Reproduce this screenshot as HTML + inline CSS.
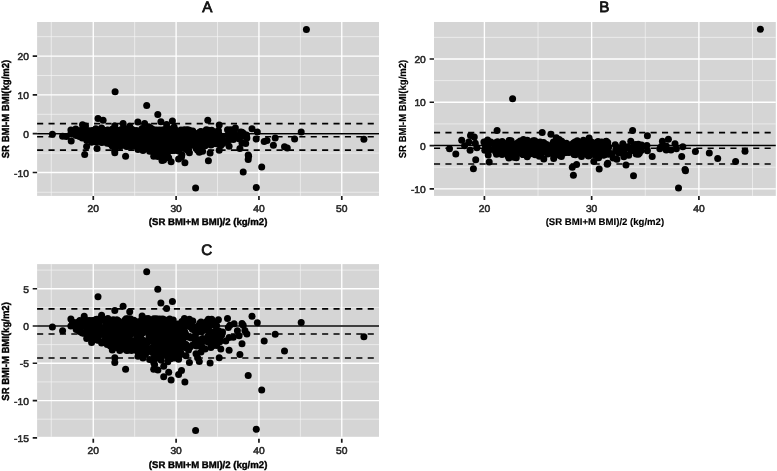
<!DOCTYPE html>
<html lang="en"><head><meta charset="utf-8"><title>Bland-Altman plots</title>
<style>
html,body{margin:0;padding:0;background:#fff;}
body{width:777px;height:471px;overflow:hidden;}
svg{display:block;}
text{font-family:"Liberation Sans",Arial,Helvetica,sans-serif;text-rendering:geometricPrecision;}
.tk{font-size:9.9px;fill:#2a2a2a;stroke:#2a2a2a;stroke-width:0.55;}
.ax{font-size:9.6px;font-weight:bold;fill:#000;stroke:#000;}
.ay{font-size:10.2px;}
.tt{font-size:15.2px;fill:#111;stroke:#111;stroke-width:0.8;}
</style></head><body>
<svg width="777" height="471" viewBox="0 0 777 471">
<rect width="777" height="471" fill="#fff"/>
<g><rect x="37.1" y="22.0" width="341.9" height="173.9" fill="#d5d5d5"/>
<path d="M51.29 22.0V195.9M134.69 22.0V195.9M217.52 22.0V195.9M300.36 22.0V195.9M37.1 192.25H379.0M37.1 153.10H379.0M37.1 114.30H379.0M37.1 75.50H379.0M37.1 36.70H379.0" stroke="#f4f4f4" stroke-width="0.7" fill="none"/>
<path d="M93.28 22.0V195.9M176.11 22.0V195.9M258.94 22.0V195.9M341.77 22.0V195.9M37.1 172.50H379.0M37.1 133.70H379.0M37.1 94.90H379.0M37.1 56.10H379.0" stroke="#ffffff" stroke-width="1.35" fill="none"/>
<path d="M93.28 196.0v4.1M176.11 196.0v4.1M258.94 196.0v4.1M341.77 196.0v4.1M37.1 172.50h-4.4M37.1 133.70h-4.4M37.1 94.90h-4.4M37.1 56.10h-4.4" stroke="#1a1a1a" stroke-width="1.7" fill="none"/>
<text class="tk" transform="translate(93.3 211.6) scale(1.04 1)" text-anchor="middle">20</text>
<text class="tk" transform="translate(176.1 211.6) scale(1.04 1)" text-anchor="middle">30</text>
<text class="tk" transform="translate(258.9 211.6) scale(1.04 1)" text-anchor="middle">40</text>
<text class="tk" transform="translate(341.8 211.6) scale(1.04 1)" text-anchor="middle">50</text>
<text class="tk" transform="translate(28.9 176.5) scale(1.04 1)" text-anchor="end">-10</text>
<text class="tk" transform="translate(28.9 137.7) scale(1.04 1)" text-anchor="end">0</text>
<text class="tk" transform="translate(28.9 98.9) scale(1.04 1)" text-anchor="end">10</text>
<text class="tk" transform="translate(28.9 60.1) scale(1.04 1)" text-anchor="end">20</text>
<g fill="#000">
<circle cx="115.1" cy="91.7" r="3.5"/><circle cx="306.4" cy="29.4" r="3.5"/><circle cx="103.1" cy="120.2" r="3.5"/><circle cx="137.9" cy="122.1" r="3.5"/><circle cx="82.5" cy="124.8" r="3.5"/><circle cx="85.5" cy="126.1" r="3.5"/><circle cx="75.7" cy="128.9" r="3.5"/><circle cx="66.4" cy="136.6" r="3.5"/><circle cx="71.2" cy="141.1" r="3.5"/><circle cx="86.6" cy="146.4" r="3.5"/><circle cx="84.7" cy="154.5" r="3.5"/><circle cx="97.0" cy="148.6" r="3.5"/><circle cx="96.2" cy="142.0" r="3.5"/><circle cx="82.3" cy="138.0" r="3.5"/><circle cx="78.0" cy="133.9" r="3.5"/><circle cx="81.3" cy="130.4" r="3.5"/><circle cx="86.2" cy="131.6" r="3.5"/><circle cx="87.5" cy="135.6" r="3.5"/><circle cx="92.9" cy="130.4" r="3.5"/><circle cx="95.8" cy="128.8" r="3.5"/><circle cx="98.2" cy="130.6" r="3.5"/><circle cx="94.1" cy="135.1" r="3.5"/><circle cx="97.4" cy="137.4" r="3.5"/><circle cx="100.7" cy="132.5" r="3.5"/><circle cx="102.4" cy="136.8" r="3.5"/><circle cx="144.6" cy="123.5" r="3.5"/><circle cx="162.0" cy="160.4" r="3.5"/><circle cx="161.2" cy="153.1" r="3.5"/><circle cx="164.5" cy="150.8" r="3.5"/><circle cx="181.9" cy="154.7" r="3.5"/><circle cx="177.8" cy="148.1" r="3.5"/><circle cx="188.5" cy="149.6" r="3.5"/><circle cx="207.8" cy="120.3" r="3.5"/><circle cx="219.2" cy="124.9" r="3.5"/><circle cx="235.4" cy="128.1" r="3.5"/><circle cx="230.8" cy="129.8" r="3.5"/><circle cx="240.5" cy="132.1" r="3.5"/><circle cx="246.5" cy="134.9" r="3.5"/><circle cx="256.2" cy="139.1" r="3.5"/><circle cx="245.7" cy="143.6" r="3.5"/><circle cx="248.2" cy="155.0" r="3.5"/><circle cx="222.9" cy="143.6" r="3.5"/><circle cx="218.8" cy="133.7" r="3.5"/><circle cx="219.2" cy="138.4" r="3.5"/><circle cx="202.6" cy="151.2" r="3.5"/><circle cx="188.1" cy="150.4" r="3.5"/><circle cx="206.3" cy="129.8" r="3.5"/><circle cx="200.1" cy="132.1" r="3.5"/><circle cx="212.1" cy="132.5" r="3.5"/><circle cx="188.5" cy="131.0" r="3.5"/><circle cx="228.7" cy="136.6" r="3.5"/><circle cx="233.7" cy="137.8" r="3.5"/><circle cx="237.4" cy="137.8" r="3.5"/><circle cx="241.5" cy="136.6" r="3.5"/><circle cx="233.7" cy="134.1" r="3.5"/><circle cx="229.9" cy="134.5" r="3.5"/><circle cx="195.6" cy="145.9" r="3.5"/><circle cx="192.7" cy="145.0" r="3.5"/><circle cx="204.7" cy="142.4" r="3.5"/><circle cx="210.5" cy="141.3" r="3.5"/><circle cx="213.0" cy="140.3" r="3.5"/><circle cx="201.0" cy="139.5" r="3.5"/><circle cx="197.6" cy="136.4" r="3.5"/><circle cx="208.4" cy="160.7" r="3.5"/><circle cx="267.0" cy="140.4" r="3.5"/><circle cx="273.4" cy="145.3" r="3.5"/><circle cx="287.3" cy="148.1" r="3.5"/><circle cx="294.6" cy="138.9" r="3.5"/><circle cx="248.6" cy="156.2" r="3.5"/><circle cx="243.2" cy="171.9" r="3.5"/><circle cx="191.8" cy="141.1" r="3.5"/><circle cx="196.0" cy="138.7" r="3.5"/><circle cx="204.3" cy="135.6" r="3.5"/><circle cx="208.4" cy="134.5" r="3.5"/><circle cx="194.3" cy="132.9" r="3.5"/><circle cx="201.0" cy="143.8" r="3.5"/><circle cx="211.7" cy="137.2" r="3.5"/><circle cx="124.0" cy="141.8" r="3.5"/><circle cx="181.0" cy="130.1" r="3.5"/><circle cx="175.0" cy="130.3" r="3.5"/><circle cx="163.9" cy="134.8" r="3.5"/><circle cx="158.3" cy="135.5" r="3.5"/><circle cx="114.2" cy="136.9" r="3.5"/><circle cx="167.8" cy="131.4" r="3.5"/><circle cx="127.8" cy="139.0" r="3.5"/><circle cx="153.5" cy="136.7" r="3.5"/><circle cx="130.0" cy="138.6" r="3.5"/><circle cx="124.1" cy="133.7" r="3.5"/><circle cx="116.4" cy="133.7" r="3.5"/><circle cx="122.5" cy="133.2" r="3.5"/><circle cx="102.6" cy="132.2" r="3.5"/><circle cx="164.5" cy="136.5" r="3.5"/><circle cx="183.0" cy="135.8" r="3.5"/><circle cx="120.9" cy="129.7" r="3.5"/><circle cx="179.6" cy="139.9" r="3.5"/><circle cx="113.8" cy="138.5" r="3.5"/><circle cx="183.2" cy="136.2" r="3.5"/><circle cx="175.5" cy="139.8" r="3.5"/><circle cx="131.4" cy="139.9" r="3.5"/><circle cx="173.8" cy="142.2" r="3.5"/><circle cx="114.1" cy="136.0" r="3.5"/><circle cx="121.0" cy="131.1" r="3.5"/><circle cx="150.2" cy="134.7" r="3.5"/><circle cx="114.2" cy="134.7" r="3.5"/><circle cx="137.7" cy="139.0" r="3.5"/><circle cx="115.2" cy="137.8" r="3.5"/><circle cx="131.0" cy="129.4" r="3.5"/><circle cx="116.3" cy="140.2" r="3.5"/><circle cx="180.8" cy="136.6" r="3.5"/><circle cx="111.6" cy="135.5" r="3.5"/><circle cx="180.2" cy="137.0" r="3.5"/><circle cx="160.2" cy="135.7" r="3.5"/><circle cx="126.7" cy="132.5" r="3.5"/><circle cx="124.2" cy="135.7" r="3.5"/><circle cx="188.5" cy="133.3" r="3.5"/><circle cx="189.2" cy="135.3" r="3.5"/><circle cx="127.0" cy="137.6" r="3.5"/><circle cx="180.3" cy="130.9" r="3.5"/><circle cx="127.3" cy="134.6" r="3.5"/><circle cx="187.5" cy="129.8" r="3.5"/><circle cx="131.5" cy="136.1" r="3.5"/><circle cx="113.9" cy="129.5" r="3.5"/><circle cx="147.8" cy="136.7" r="3.5"/><circle cx="117.9" cy="144.6" r="3.5"/><circle cx="120.7" cy="133.4" r="3.5"/><circle cx="151.8" cy="135.2" r="3.5"/><circle cx="169.2" cy="134.9" r="3.5"/><circle cx="164.0" cy="136.3" r="3.5"/><circle cx="109.3" cy="135.3" r="3.5"/><circle cx="155.0" cy="139.9" r="3.5"/><circle cx="119.6" cy="136.7" r="3.5"/><circle cx="155.3" cy="138.7" r="3.5"/><circle cx="152.8" cy="143.6" r="3.5"/><circle cx="119.3" cy="131.0" r="3.5"/><circle cx="137.4" cy="134.3" r="3.5"/><circle cx="164.9" cy="130.1" r="3.5"/><circle cx="131.0" cy="134.4" r="3.5"/><circle cx="175.4" cy="133.8" r="3.5"/><circle cx="102.9" cy="140.2" r="3.5"/><circle cx="181.5" cy="144.6" r="3.5"/><circle cx="124.9" cy="135.6" r="3.5"/><circle cx="117.9" cy="135.0" r="3.5"/><circle cx="115.9" cy="140.0" r="3.5"/><circle cx="134.1" cy="137.1" r="3.5"/><circle cx="147.2" cy="137.0" r="3.5"/><circle cx="140.7" cy="138.7" r="3.5"/><circle cx="164.3" cy="137.0" r="3.5"/><circle cx="173.3" cy="134.6" r="3.5"/><circle cx="164.0" cy="139.4" r="3.5"/><circle cx="135.0" cy="136.8" r="3.5"/><circle cx="178.2" cy="138.2" r="3.5"/><circle cx="185.3" cy="141.5" r="3.5"/><circle cx="148.1" cy="136.6" r="3.5"/><circle cx="148.8" cy="126.8" r="3.5"/><circle cx="121.2" cy="135.5" r="3.5"/><circle cx="117.5" cy="134.4" r="3.5"/><circle cx="173.3" cy="135.0" r="3.5"/><circle cx="104.2" cy="131.9" r="3.5"/><circle cx="118.7" cy="133.4" r="3.5"/><circle cx="103.1" cy="140.9" r="3.5"/><circle cx="147.5" cy="139.8" r="3.5"/><circle cx="163.3" cy="130.6" r="3.5"/><circle cx="164.5" cy="132.1" r="3.5"/><circle cx="105.5" cy="133.6" r="3.5"/><circle cx="145.5" cy="133.7" r="3.5"/><circle cx="126.1" cy="134.0" r="3.5"/><circle cx="113.6" cy="134.0" r="3.5"/><circle cx="153.5" cy="135.4" r="3.5"/><circle cx="151.8" cy="138.5" r="3.5"/><circle cx="167.1" cy="133.1" r="3.5"/><circle cx="183.9" cy="130.6" r="3.5"/><circle cx="135.7" cy="143.3" r="3.5"/><circle cx="147.7" cy="133.2" r="3.5"/><circle cx="136.3" cy="130.5" r="3.5"/><circle cx="131.3" cy="139.2" r="3.5"/><circle cx="122.7" cy="138.9" r="3.5"/><circle cx="187.7" cy="133.2" r="3.5"/><circle cx="172.2" cy="130.7" r="3.5"/><circle cx="175.9" cy="140.5" r="3.5"/><circle cx="183.6" cy="137.9" r="3.5"/><circle cx="123.4" cy="141.7" r="3.5"/><circle cx="133.5" cy="134.2" r="3.5"/><circle cx="148.2" cy="133.0" r="3.5"/><circle cx="145.9" cy="135.1" r="3.5"/><circle cx="103.4" cy="130.2" r="3.5"/><circle cx="169.7" cy="128.9" r="3.5"/><circle cx="183.8" cy="141.5" r="3.5"/><circle cx="179.2" cy="142.0" r="3.5"/><circle cx="179.3" cy="131.4" r="3.5"/><circle cx="124.9" cy="135.6" r="3.5"/><circle cx="161.1" cy="137.5" r="3.5"/><circle cx="182.7" cy="132.0" r="3.5"/><circle cx="156.1" cy="136.8" r="3.5"/><circle cx="139.7" cy="132.1" r="3.5"/><circle cx="185.1" cy="137.6" r="3.5"/><circle cx="158.4" cy="133.6" r="3.5"/><circle cx="112.2" cy="144.8" r="3.5"/><circle cx="146.7" cy="142.2" r="3.5"/><circle cx="125.2" cy="141.5" r="3.5"/><circle cx="114.6" cy="135.8" r="3.5"/><circle cx="112.4" cy="134.6" r="3.5"/><circle cx="137.3" cy="134.4" r="3.5"/><circle cx="126.9" cy="136.7" r="3.5"/><circle cx="149.5" cy="135.1" r="3.5"/><circle cx="175.3" cy="140.7" r="3.5"/><circle cx="158.6" cy="140.0" r="3.5"/><circle cx="119.2" cy="137.9" r="3.5"/><circle cx="149.7" cy="141.0" r="3.5"/><circle cx="155.4" cy="140.1" r="3.5"/><circle cx="122.9" cy="136.1" r="3.5"/><circle cx="121.0" cy="140.6" r="3.5"/><circle cx="153.0" cy="137.1" r="3.5"/><circle cx="102.6" cy="141.5" r="3.5"/><circle cx="122.5" cy="130.6" r="3.5"/><circle cx="150.4" cy="140.0" r="3.5"/><circle cx="188.3" cy="136.6" r="3.5"/><circle cx="127.5" cy="136.5" r="3.5"/><circle cx="107.4" cy="139.1" r="3.5"/><circle cx="178.1" cy="138.1" r="3.5"/><circle cx="135.6" cy="136.3" r="3.5"/><circle cx="140.2" cy="137.0" r="3.5"/><circle cx="121.4" cy="138.7" r="3.5"/><circle cx="185.8" cy="137.0" r="3.5"/><circle cx="131.1" cy="139.1" r="3.5"/><circle cx="132.5" cy="139.2" r="3.5"/><circle cx="176.2" cy="141.6" r="3.5"/><circle cx="173.6" cy="143.1" r="3.5"/><circle cx="166.8" cy="137.5" r="3.5"/><circle cx="168.2" cy="143.5" r="3.5"/><circle cx="163.8" cy="135.8" r="3.5"/><circle cx="181.9" cy="131.3" r="3.5"/><circle cx="102.0" cy="131.2" r="3.5"/><circle cx="168.8" cy="140.7" r="3.5"/><circle cx="186.1" cy="139.1" r="3.5"/><circle cx="151.8" cy="142.7" r="3.5"/><circle cx="178.2" cy="133.5" r="3.5"/><circle cx="154.9" cy="139.9" r="3.5"/><circle cx="141.7" cy="133.9" r="3.5"/><circle cx="165.0" cy="137.9" r="3.5"/><circle cx="150.3" cy="133.1" r="3.5"/><circle cx="135.4" cy="139.8" r="3.5"/><circle cx="176.2" cy="130.7" r="3.5"/><circle cx="145.5" cy="139.1" r="3.5"/><circle cx="128.2" cy="136.0" r="3.5"/><circle cx="114.3" cy="141.3" r="3.5"/><circle cx="109.3" cy="139.1" r="3.5"/><circle cx="182.3" cy="140.1" r="3.5"/><circle cx="175.1" cy="130.1" r="3.5"/><circle cx="185.7" cy="135.6" r="3.5"/><circle cx="181.5" cy="132.9" r="3.5"/><circle cx="102.5" cy="132.0" r="3.5"/><circle cx="145.2" cy="135.3" r="3.5"/><circle cx="182.4" cy="136.1" r="3.5"/><circle cx="189.2" cy="141.6" r="3.5"/><circle cx="147.0" cy="142.7" r="3.5"/><circle cx="135.8" cy="137.4" r="3.5"/><circle cx="133.0" cy="139.8" r="3.5"/><circle cx="184.8" cy="138.8" r="3.5"/><circle cx="161.0" cy="138.5" r="3.5"/><circle cx="134.4" cy="137.1" r="3.5"/><circle cx="136.8" cy="141.5" r="3.5"/><circle cx="178.8" cy="138.7" r="3.5"/><circle cx="186.2" cy="141.0" r="3.5"/><circle cx="156.4" cy="136.5" r="3.5"/><circle cx="189.0" cy="139.4" r="3.5"/><circle cx="173.2" cy="132.8" r="3.5"/><circle cx="116.6" cy="141.3" r="3.5"/><circle cx="174.1" cy="127.0" r="3.5"/><circle cx="146.5" cy="130.5" r="3.5"/><circle cx="162.1" cy="131.5" r="3.5"/><circle cx="173.6" cy="128.7" r="3.5"/><circle cx="138.5" cy="137.3" r="3.5"/><circle cx="115.3" cy="138.0" r="3.5"/><circle cx="145.9" cy="132.3" r="3.5"/><circle cx="118.0" cy="134.6" r="3.5"/><circle cx="154.5" cy="131.8" r="3.5"/><circle cx="132.5" cy="131.3" r="3.5"/><circle cx="105.3" cy="137.0" r="3.5"/><circle cx="137.7" cy="136.0" r="3.5"/><circle cx="162.2" cy="140.0" r="3.5"/><circle cx="101.9" cy="139.3" r="3.5"/><circle cx="153.0" cy="129.8" r="3.5"/><circle cx="160.2" cy="135.3" r="3.5"/><circle cx="150.1" cy="132.5" r="3.5"/><circle cx="124.9" cy="139.7" r="3.5"/><circle cx="189.1" cy="140.6" r="3.5"/><circle cx="152.0" cy="138.5" r="3.5"/><circle cx="115.3" cy="135.8" r="3.5"/><circle cx="168.2" cy="135.4" r="3.5"/><circle cx="116.6" cy="135.7" r="3.5"/><circle cx="147.5" cy="134.4" r="3.5"/><circle cx="172.4" cy="141.6" r="3.5"/><circle cx="107.0" cy="130.2" r="3.5"/><circle cx="129.9" cy="136.3" r="3.5"/><circle cx="164.3" cy="138.2" r="3.5"/><circle cx="125.0" cy="134.9" r="3.5"/><circle cx="110.3" cy="132.6" r="3.5"/><circle cx="132.2" cy="139.7" r="3.5"/><circle cx="141.1" cy="137.8" r="3.5"/><circle cx="179.8" cy="136.0" r="3.5"/><circle cx="152.8" cy="132.8" r="3.5"/><circle cx="156.0" cy="137.9" r="3.5"/><circle cx="123.4" cy="128.2" r="3.5"/><circle cx="176.6" cy="134.4" r="3.5"/><circle cx="129.2" cy="131.1" r="3.5"/><circle cx="128.2" cy="141.0" r="3.5"/><circle cx="154.5" cy="132.4" r="3.5"/><circle cx="185.0" cy="137.9" r="3.5"/><circle cx="122.9" cy="141.6" r="3.5"/><circle cx="121.0" cy="132.8" r="3.5"/><circle cx="128.7" cy="133.6" r="3.5"/><circle cx="171.1" cy="139.9" r="3.5"/><circle cx="122.9" cy="135.1" r="3.5"/><circle cx="118.0" cy="133.5" r="3.5"/><circle cx="186.9" cy="138.0" r="3.5"/><circle cx="111.7" cy="132.0" r="3.5"/><circle cx="148.4" cy="139.8" r="3.5"/><circle cx="107.3" cy="134.2" r="3.5"/><circle cx="112.4" cy="135.1" r="3.5"/><circle cx="123.1" cy="140.0" r="3.5"/><circle cx="118.4" cy="137.4" r="3.5"/><circle cx="104.6" cy="134.0" r="3.5"/><circle cx="159.9" cy="138.0" r="3.5"/><circle cx="163.5" cy="134.9" r="3.5"/><circle cx="109.7" cy="137.7" r="3.5"/><circle cx="112.7" cy="129.5" r="3.5"/><circle cx="140.5" cy="133.2" r="3.5"/><circle cx="115.6" cy="142.8" r="3.5"/><circle cx="132.5" cy="137.5" r="3.5"/><circle cx="185.7" cy="140.5" r="3.5"/><circle cx="119.9" cy="132.4" r="3.5"/><circle cx="121.5" cy="138.2" r="3.5"/><circle cx="141.3" cy="132.7" r="3.5"/><circle cx="124.4" cy="132.3" r="3.5"/><circle cx="180.6" cy="140.0" r="3.5"/><circle cx="123.2" cy="138.7" r="3.5"/><circle cx="155.0" cy="135.0" r="3.5"/><circle cx="112.3" cy="129.2" r="3.5"/><circle cx="146.6" cy="139.8" r="3.5"/><circle cx="169.3" cy="137.6" r="3.5"/><circle cx="135.4" cy="139.6" r="3.5"/><circle cx="128.8" cy="141.0" r="3.5"/><circle cx="135.8" cy="134.7" r="3.5"/><circle cx="176.3" cy="135.6" r="3.5"/><circle cx="129.7" cy="137.8" r="3.5"/><circle cx="150.9" cy="138.4" r="3.5"/><circle cx="133.3" cy="140.1" r="3.5"/><circle cx="107.4" cy="136.8" r="3.5"/><circle cx="128.9" cy="136.5" r="3.5"/><circle cx="164.5" cy="134.8" r="3.5"/><circle cx="126.3" cy="143.8" r="3.5"/><circle cx="169.6" cy="132.0" r="3.5"/><circle cx="179.1" cy="135.5" r="3.5"/><circle cx="125.8" cy="138.4" r="3.5"/><circle cx="104.1" cy="139.2" r="3.5"/><circle cx="132.5" cy="142.0" r="3.5"/><circle cx="137.8" cy="140.1" r="3.5"/><circle cx="123.3" cy="141.8" r="3.5"/><circle cx="175.9" cy="140.1" r="3.5"/><circle cx="117.5" cy="132.4" r="3.5"/><circle cx="111.7" cy="131.4" r="3.5"/><circle cx="164.1" cy="140.1" r="3.5"/><circle cx="105.1" cy="134.6" r="3.5"/><circle cx="119.0" cy="136.2" r="3.5"/><circle cx="128.2" cy="137.6" r="3.5"/><circle cx="128.9" cy="136.1" r="3.5"/><circle cx="157.6" cy="133.6" r="3.5"/><circle cx="151.6" cy="130.1" r="3.5"/><circle cx="164.5" cy="136.9" r="3.5"/><circle cx="161.6" cy="132.7" r="3.5"/><circle cx="132.2" cy="129.4" r="3.5"/><circle cx="169.7" cy="136.8" r="3.5"/><circle cx="126.7" cy="129.5" r="3.5"/><circle cx="154.9" cy="134.8" r="3.5"/><circle cx="105.7" cy="136.7" r="3.5"/><circle cx="171.1" cy="134.9" r="3.5"/><circle cx="120.0" cy="131.3" r="3.5"/><circle cx="109.1" cy="140.1" r="3.5"/><circle cx="162.5" cy="141.8" r="3.5"/><circle cx="174.3" cy="132.8" r="3.5"/><circle cx="126.2" cy="128.9" r="3.5"/><circle cx="138.8" cy="131.8" r="3.5"/><circle cx="183.2" cy="139.1" r="3.5"/><circle cx="174.5" cy="142.7" r="3.5"/><circle cx="156.7" cy="138.0" r="3.5"/><circle cx="162.9" cy="136.4" r="3.5"/><circle cx="139.2" cy="145.7" r="3.5"/><circle cx="112.7" cy="137.5" r="3.5"/><circle cx="168.5" cy="131.0" r="3.5"/><circle cx="172.3" cy="135.2" r="3.5"/><circle cx="157.6" cy="139.8" r="3.5"/><circle cx="149.4" cy="136.8" r="3.5"/><circle cx="133.0" cy="135.4" r="3.5"/><circle cx="137.7" cy="135.8" r="3.5"/><circle cx="113.6" cy="133.6" r="3.5"/><circle cx="163.6" cy="138.2" r="3.5"/><circle cx="122.8" cy="139.3" r="3.5"/><circle cx="146.8" cy="145.4" r="3.5"/><circle cx="132.5" cy="133.7" r="3.5"/><circle cx="127.8" cy="135.2" r="3.5"/><circle cx="151.0" cy="138.2" r="3.5"/><circle cx="130.9" cy="134.9" r="3.5"/><circle cx="168.3" cy="141.3" r="3.5"/><circle cx="116.4" cy="139.4" r="3.5"/><circle cx="142.1" cy="141.3" r="3.5"/><circle cx="168.8" cy="135.9" r="3.5"/><circle cx="127.0" cy="138.5" r="3.5"/><circle cx="133.2" cy="136.4" r="3.5"/><circle cx="126.2" cy="135.5" r="3.5"/><circle cx="118.9" cy="138.1" r="3.5"/><circle cx="111.5" cy="140.8" r="3.5"/><circle cx="130.1" cy="140.4" r="3.5"/><circle cx="116.3" cy="136.1" r="3.5"/><circle cx="167.4" cy="136.0" r="3.5"/><circle cx="108.9" cy="139.0" r="3.5"/><circle cx="111.1" cy="140.9" r="3.5"/><circle cx="118.2" cy="136.5" r="3.5"/><circle cx="149.3" cy="128.1" r="3.5"/><circle cx="158.1" cy="136.3" r="3.5"/><circle cx="156.6" cy="131.6" r="3.5"/><circle cx="123.6" cy="139.1" r="3.5"/><circle cx="123.2" cy="136.2" r="3.5"/><circle cx="169.6" cy="136.1" r="3.5"/><circle cx="175.3" cy="137.5" r="3.5"/><circle cx="157.6" cy="134.4" r="3.5"/><circle cx="175.8" cy="134.7" r="3.5"/><circle cx="170.5" cy="137.9" r="3.5"/><circle cx="174.5" cy="137.0" r="3.5"/><circle cx="117.8" cy="140.3" r="3.5"/><circle cx="174.0" cy="138.4" r="3.5"/><circle cx="149.9" cy="133.4" r="3.5"/><circle cx="133.9" cy="135.4" r="3.5"/><circle cx="105.2" cy="139.3" r="3.5"/><circle cx="151.3" cy="141.8" r="3.5"/><circle cx="163.5" cy="142.0" r="3.5"/><circle cx="181.1" cy="132.5" r="3.5"/><circle cx="145.5" cy="138.4" r="3.5"/><circle cx="115.4" cy="138.4" r="3.5"/><circle cx="108.6" cy="131.9" r="3.5"/><circle cx="161.9" cy="134.6" r="3.5"/><circle cx="186.7" cy="133.2" r="3.5"/><circle cx="109.4" cy="132.8" r="3.5"/><circle cx="118.3" cy="135.8" r="3.5"/><circle cx="165.0" cy="129.4" r="3.5"/><circle cx="176.7" cy="136.7" r="3.5"/><circle cx="170.6" cy="139.6" r="3.5"/><circle cx="159.6" cy="135.4" r="3.5"/><circle cx="146.7" cy="139.9" r="3.5"/><circle cx="140.1" cy="135.1" r="3.5"/><circle cx="160.0" cy="132.9" r="3.5"/><circle cx="116.0" cy="144.3" r="3.5"/><circle cx="127.5" cy="141.5" r="3.5"/><circle cx="132.1" cy="135.1" r="3.5"/><circle cx="118.7" cy="133.9" r="3.5"/><circle cx="142.0" cy="135.1" r="3.5"/><circle cx="186.9" cy="130.3" r="3.5"/><circle cx="187.1" cy="141.0" r="3.5"/><circle cx="186.0" cy="142.0" r="3.5"/><circle cx="106.9" cy="141.7" r="3.5"/><circle cx="161.0" cy="139.3" r="3.5"/><circle cx="151.7" cy="138.9" r="3.5"/><circle cx="185.2" cy="142.4" r="3.5"/><circle cx="127.8" cy="136.1" r="3.5"/><circle cx="131.7" cy="136.1" r="3.5"/><circle cx="118.1" cy="137.4" r="3.5"/><circle cx="161.1" cy="138.4" r="3.5"/><circle cx="159.5" cy="136.3" r="3.5"/><circle cx="134.2" cy="140.3" r="3.5"/><circle cx="148.1" cy="138.7" r="3.5"/><circle cx="151.2" cy="138.3" r="3.5"/><circle cx="117.4" cy="135.6" r="3.5"/><circle cx="179.7" cy="138.6" r="3.5"/><circle cx="177.3" cy="137.4" r="3.5"/><circle cx="123.8" cy="132.8" r="3.5"/><circle cx="123.7" cy="134.1" r="3.5"/><circle cx="144.6" cy="139.4" r="3.5"/><circle cx="151.8" cy="137.7" r="3.5"/><circle cx="111.5" cy="142.0" r="3.5"/><circle cx="108.6" cy="137.2" r="3.5"/><circle cx="137.4" cy="133.1" r="3.5"/><circle cx="177.4" cy="134.9" r="3.5"/><circle cx="149.9" cy="138.2" r="3.5"/><circle cx="111.6" cy="143.2" r="3.5"/><circle cx="188.5" cy="137.1" r="3.5"/><circle cx="174.5" cy="138.6" r="3.5"/><circle cx="135.9" cy="132.1" r="3.5"/><circle cx="151.0" cy="128.2" r="3.5"/><circle cx="169.6" cy="132.4" r="3.5"/><circle cx="106.6" cy="131.7" r="3.5"/><circle cx="122.4" cy="137.3" r="3.5"/><circle cx="153.7" cy="136.3" r="3.5"/><circle cx="120.3" cy="138.7" r="3.5"/><circle cx="139.0" cy="131.0" r="3.5"/><circle cx="179.6" cy="142.5" r="3.5"/><circle cx="151.0" cy="142.2" r="3.5"/><circle cx="182.2" cy="135.2" r="3.5"/><circle cx="167.0" cy="138.5" r="3.5"/><circle cx="201.7" cy="136.4" r="3.5"/><circle cx="212.1" cy="141.5" r="3.5"/><circle cx="197.0" cy="140.3" r="3.5"/><circle cx="214.7" cy="133.2" r="3.5"/><circle cx="209.9" cy="132.7" r="3.5"/><circle cx="196.5" cy="135.7" r="3.5"/><circle cx="206.2" cy="136.3" r="3.5"/><circle cx="214.3" cy="138.2" r="3.5"/><circle cx="208.9" cy="136.9" r="3.5"/><circle cx="203.9" cy="134.8" r="3.5"/><circle cx="212.4" cy="138.1" r="3.5"/><circle cx="194.7" cy="137.5" r="3.5"/><circle cx="196.7" cy="136.2" r="3.5"/><circle cx="206.3" cy="138.7" r="3.5"/><circle cx="96.2" cy="135.5" r="3.5"/><circle cx="94.7" cy="136.9" r="3.5"/><circle cx="102.0" cy="138.5" r="3.5"/><circle cx="101.3" cy="135.5" r="3.5"/><circle cx="102.7" cy="132.0" r="3.5"/><circle cx="94.8" cy="134.2" r="3.5"/><circle cx="98.2" cy="131.1" r="3.5"/><circle cx="93.6" cy="138.0" r="3.5"/><circle cx="146.7" cy="105.5" r="3.5"/><circle cx="98.0" cy="118.5" r="3.5"/><circle cx="123.1" cy="123.4" r="3.5"/><circle cx="114.8" cy="125.7" r="3.5"/><circle cx="129.7" cy="126.3" r="3.5"/><circle cx="101.6" cy="128.1" r="3.5"/><circle cx="142.1" cy="128.5" r="3.5"/><circle cx="84.2" cy="128.7" r="3.5"/><circle cx="70.9" cy="130.0" r="3.5"/><circle cx="52.4" cy="134.3" r="3.5"/><circle cx="62.6" cy="136.2" r="3.5"/><circle cx="70.9" cy="133.7" r="3.5"/><circle cx="157.8" cy="114.6" r="3.5"/><circle cx="160.9" cy="121.8" r="3.5"/><circle cx="172.4" cy="121.0" r="3.5"/><circle cx="166.6" cy="124.6" r="3.5"/><circle cx="252.0" cy="128.7" r="3.5"/><circle cx="257.3" cy="132.0" r="3.5"/><circle cx="227.5" cy="129.8" r="3.5"/><circle cx="218.4" cy="130.4" r="3.5"/><circle cx="242.0" cy="132.3" r="3.5"/><circle cx="228.3" cy="134.5" r="3.5"/><circle cx="244.9" cy="136.0" r="3.5"/><circle cx="239.1" cy="138.7" r="3.5"/><circle cx="211.7" cy="130.2" r="3.5"/><circle cx="208.4" cy="130.2" r="3.5"/><circle cx="189.4" cy="130.2" r="3.5"/><circle cx="184.4" cy="129.8" r="3.5"/><circle cx="181.9" cy="131.4" r="3.5"/><circle cx="86.7" cy="140.2" r="3.5"/><circle cx="91.6" cy="142.2" r="3.5"/><circle cx="101.6" cy="142.6" r="3.5"/><circle cx="112.3" cy="146.1" r="3.5"/><circle cx="119.8" cy="146.5" r="3.5"/><circle cx="114.8" cy="150.2" r="3.5"/><circle cx="114.8" cy="152.7" r="3.5"/><circle cx="125.6" cy="156.2" r="3.5"/><circle cx="138.0" cy="149.4" r="3.5"/><circle cx="153.7" cy="152.7" r="3.5"/><circle cx="153.7" cy="156.2" r="3.5"/><circle cx="248.2" cy="159.5" r="3.5"/><circle cx="184.9" cy="162.8" r="3.5"/><circle cx="171.1" cy="161.8" r="3.5"/><circle cx="163.7" cy="160.1" r="3.5"/><circle cx="168.7" cy="157.8" r="3.5"/><circle cx="178.6" cy="158.9" r="3.5"/><circle cx="181.5" cy="156.9" r="3.5"/><circle cx="157.9" cy="156.6" r="3.5"/><circle cx="163.7" cy="154.7" r="3.5"/><circle cx="154.6" cy="153.9" r="3.5"/><circle cx="189.4" cy="152.7" r="3.5"/><circle cx="199.3" cy="152.2" r="3.5"/><circle cx="210.1" cy="153.0" r="3.5"/><circle cx="178.6" cy="151.0" r="3.5"/><circle cx="219.2" cy="150.2" r="3.5"/><circle cx="239.9" cy="148.6" r="3.5"/><circle cx="196.0" cy="148.2" r="3.5"/><circle cx="197.6" cy="150.2" r="3.5"/><circle cx="188.5" cy="146.1" r="3.5"/><circle cx="229.1" cy="146.3" r="3.5"/><circle cx="220.8" cy="145.6" r="3.5"/><circle cx="242.0" cy="143.0" r="3.5"/><circle cx="246.9" cy="137.9" r="3.5"/><circle cx="237.4" cy="136.1" r="3.5"/><circle cx="229.1" cy="139.8" r="3.5"/><circle cx="243.2" cy="133.3" r="3.5"/><circle cx="229.9" cy="133.3" r="3.5"/><circle cx="205.1" cy="145.7" r="3.5"/><circle cx="210.9" cy="145.0" r="3.5"/><circle cx="155.4" cy="150.6" r="3.5"/><circle cx="143.0" cy="150.4" r="3.5"/><circle cx="301.2" cy="132.0" r="3.5"/><circle cx="275.2" cy="138.0" r="3.5"/><circle cx="264.2" cy="141.5" r="3.5"/><circle cx="284.5" cy="146.7" r="3.5"/><circle cx="363.9" cy="139.2" r="3.5"/><circle cx="261.7" cy="167.0" r="3.5"/><circle cx="195.6" cy="188.0" r="3.5"/><circle cx="256.3" cy="187.5" r="3.5"/><circle cx="225.8" cy="141.5" r="3.5"/><circle cx="220.0" cy="139.9" r="3.5"/><circle cx="233.3" cy="139.5" r="3.5"/><circle cx="222.5" cy="136.8" r="3.5"/><circle cx="234.1" cy="132.5" r="3.5"/><circle cx="216.7" cy="143.8" r="3.5"/><circle cx="201.0" cy="147.3" r="3.5"/><circle cx="167.8" cy="152.3" r="3.5"/><circle cx="174.5" cy="150.4" r="3.5"/><circle cx="161.2" cy="151.5" r="3.5"/><circle cx="149.6" cy="151.2" r="3.5"/><circle cx="186.0" cy="149.2" r="3.5"/><circle cx="131.2" cy="143.2" r="3.5"/><circle cx="118.9" cy="133.2" r="3.5"/><circle cx="141.4" cy="130.6" r="3.5"/><circle cx="135.8" cy="142.5" r="3.5"/><circle cx="167.0" cy="144.9" r="3.5"/><circle cx="106.0" cy="133.4" r="3.5"/><circle cx="91.8" cy="138.5" r="3.5"/><circle cx="142.6" cy="143.1" r="3.5"/><circle cx="147.3" cy="141.9" r="3.5"/><circle cx="106.6" cy="138.4" r="3.5"/><circle cx="122.0" cy="144.6" r="3.5"/><circle cx="159.9" cy="136.0" r="3.5"/><circle cx="98.8" cy="138.7" r="3.5"/><circle cx="130.1" cy="132.1" r="3.5"/><circle cx="152.7" cy="144.9" r="3.5"/><circle cx="180.5" cy="148.6" r="3.5"/><circle cx="118.1" cy="134.7" r="3.5"/><circle cx="156.6" cy="138.7" r="3.5"/><circle cx="168.9" cy="144.3" r="3.5"/><circle cx="148.9" cy="138.2" r="3.5"/><circle cx="136.1" cy="141.3" r="3.5"/><circle cx="165.0" cy="130.6" r="3.5"/><circle cx="124.3" cy="136.7" r="3.5"/><circle cx="78.5" cy="135.9" r="3.5"/><circle cx="162.9" cy="145.0" r="3.5"/><circle cx="114.6" cy="136.6" r="3.5"/><circle cx="78.3" cy="134.5" r="3.5"/><circle cx="115.1" cy="132.2" r="3.5"/><circle cx="132.7" cy="132.0" r="3.5"/><circle cx="162.7" cy="132.4" r="3.5"/><circle cx="102.6" cy="142.1" r="3.5"/><circle cx="111.6" cy="132.0" r="3.5"/><circle cx="178.0" cy="147.9" r="3.5"/><circle cx="97.7" cy="140.6" r="3.5"/><circle cx="137.1" cy="145.5" r="3.5"/><circle cx="112.7" cy="138.9" r="3.5"/><circle cx="177.5" cy="136.1" r="3.5"/><circle cx="129.0" cy="137.7" r="3.5"/><circle cx="171.6" cy="134.2" r="3.5"/><circle cx="168.8" cy="133.8" r="3.5"/><circle cx="115.3" cy="142.5" r="3.5"/><circle cx="83.3" cy="137.4" r="3.5"/><circle cx="74.6" cy="132.1" r="3.5"/><circle cx="139.9" cy="147.9" r="3.5"/><circle cx="123.4" cy="140.6" r="3.5"/><circle cx="163.8" cy="147.7" r="3.5"/><circle cx="130.4" cy="129.9" r="3.5"/><circle cx="167.6" cy="136.0" r="3.5"/><circle cx="90.3" cy="134.4" r="3.5"/><circle cx="130.9" cy="134.2" r="3.5"/><circle cx="166.4" cy="133.7" r="3.5"/><circle cx="162.6" cy="135.1" r="3.5"/><circle cx="96.9" cy="139.9" r="3.5"/><circle cx="100.5" cy="136.1" r="3.5"/><circle cx="177.9" cy="141.5" r="3.5"/><circle cx="177.8" cy="143.2" r="3.5"/><circle cx="141.0" cy="131.6" r="3.5"/><circle cx="165.0" cy="140.7" r="3.5"/><circle cx="144.2" cy="133.8" r="3.5"/><circle cx="81.2" cy="136.8" r="3.5"/><circle cx="172.7" cy="134.2" r="3.5"/><circle cx="155.0" cy="140.8" r="3.5"/><circle cx="91.5" cy="134.0" r="3.5"/><circle cx="108.7" cy="133.8" r="3.5"/><circle cx="179.6" cy="142.5" r="3.5"/><circle cx="116.3" cy="130.6" r="3.5"/><circle cx="152.2" cy="147.5" r="3.5"/><circle cx="172.2" cy="133.6" r="3.5"/><circle cx="88.0" cy="133.2" r="3.5"/><circle cx="180.6" cy="136.9" r="3.5"/><circle cx="110.7" cy="139.2" r="3.5"/><circle cx="179.5" cy="137.0" r="3.5"/><circle cx="130.2" cy="130.9" r="3.5"/><circle cx="119.9" cy="132.2" r="3.5"/><circle cx="163.4" cy="146.6" r="3.5"/><circle cx="98.4" cy="138.4" r="3.5"/><circle cx="86.3" cy="131.4" r="3.5"/><circle cx="111.0" cy="141.2" r="3.5"/><circle cx="136.5" cy="131.5" r="3.5"/><circle cx="118.5" cy="131.2" r="3.5"/><circle cx="127.4" cy="139.6" r="3.5"/><circle cx="152.3" cy="139.1" r="3.5"/><circle cx="107.9" cy="139.9" r="3.5"/><circle cx="133.4" cy="134.1" r="3.5"/><circle cx="157.5" cy="140.1" r="3.5"/><circle cx="134.1" cy="134.6" r="3.5"/><circle cx="173.0" cy="141.5" r="3.5"/><circle cx="139.7" cy="140.2" r="3.5"/><circle cx="128.6" cy="136.1" r="3.5"/><circle cx="121.9" cy="139.6" r="3.5"/><circle cx="124.8" cy="130.7" r="3.5"/><circle cx="149.4" cy="132.1" r="3.5"/><circle cx="176.4" cy="145.5" r="3.5"/><circle cx="133.9" cy="130.7" r="3.5"/><circle cx="165.0" cy="148.2" r="3.5"/><circle cx="79.9" cy="136.6" r="3.5"/><circle cx="158.7" cy="131.7" r="3.5"/><circle cx="88.9" cy="135.6" r="3.5"/><circle cx="145.0" cy="148.1" r="3.5"/><circle cx="169.7" cy="130.1" r="3.5"/><circle cx="96.1" cy="130.5" r="3.5"/><circle cx="116.0" cy="140.6" r="3.5"/><circle cx="129.0" cy="143.8" r="3.5"/><circle cx="133.2" cy="141.6" r="3.5"/><circle cx="141.0" cy="140.0" r="3.5"/><circle cx="159.2" cy="130.1" r="3.5"/><circle cx="76.1" cy="134.2" r="3.5"/><circle cx="118.6" cy="131.4" r="3.5"/><circle cx="162.6" cy="145.5" r="3.5"/><circle cx="88.3" cy="131.2" r="3.5"/><circle cx="135.1" cy="136.0" r="3.5"/><circle cx="148.1" cy="141.9" r="3.5"/><circle cx="79.8" cy="130.8" r="3.5"/><circle cx="142.1" cy="133.7" r="3.5"/><circle cx="81.0" cy="132.6" r="3.5"/><circle cx="79.1" cy="132.4" r="3.5"/><circle cx="122.1" cy="143.8" r="3.5"/><circle cx="133.1" cy="131.0" r="3.5"/><circle cx="130.2" cy="146.0" r="3.5"/><circle cx="156.1" cy="144.9" r="3.5"/><circle cx="153.1" cy="139.2" r="3.5"/><circle cx="92.8" cy="140.8" r="3.5"/><circle cx="175.4" cy="148.8" r="3.5"/><circle cx="162.6" cy="141.8" r="3.5"/><circle cx="126.7" cy="133.0" r="3.5"/><circle cx="115.4" cy="140.1" r="3.5"/><circle cx="148.1" cy="129.8" r="3.5"/><circle cx="109.8" cy="133.1" r="3.5"/><circle cx="150.2" cy="137.3" r="3.5"/><circle cx="116.6" cy="143.6" r="3.5"/><circle cx="79.6" cy="135.1" r="3.5"/><circle cx="81.1" cy="132.9" r="3.5"/><circle cx="168.4" cy="136.6" r="3.5"/><circle cx="104.3" cy="141.2" r="3.5"/><circle cx="101.0" cy="130.2" r="3.5"/><circle cx="179.7" cy="139.3" r="3.5"/><circle cx="98.9" cy="130.2" r="3.5"/><circle cx="124.4" cy="140.2" r="3.5"/><circle cx="94.0" cy="140.2" r="3.5"/><circle cx="136.8" cy="139.7" r="3.5"/><circle cx="155.1" cy="136.9" r="3.5"/><circle cx="151.2" cy="132.1" r="3.5"/><circle cx="115.0" cy="144.1" r="3.5"/><circle cx="181.1" cy="147.9" r="3.5"/><circle cx="152.1" cy="137.2" r="3.5"/><circle cx="76.6" cy="133.0" r="3.5"/><circle cx="170.7" cy="137.5" r="3.5"/><circle cx="153.2" cy="133.5" r="3.5"/><circle cx="127.7" cy="133.0" r="3.5"/><circle cx="161.0" cy="133.2" r="3.5"/><circle cx="136.6" cy="131.8" r="3.5"/><circle cx="147.5" cy="136.1" r="3.5"/><circle cx="83.4" cy="133.0" r="3.5"/><circle cx="133.7" cy="137.5" r="3.5"/><circle cx="141.2" cy="136.4" r="3.5"/><circle cx="160.3" cy="134.9" r="3.5"/><circle cx="127.6" cy="139.5" r="3.5"/><circle cx="153.5" cy="145.7" r="3.5"/><circle cx="152.7" cy="146.7" r="3.5"/><circle cx="153.8" cy="130.0" r="3.5"/><circle cx="126.6" cy="142.9" r="3.5"/><circle cx="124.9" cy="136.3" r="3.5"/><circle cx="156.9" cy="137.7" r="3.5"/><circle cx="154.2" cy="144.6" r="3.5"/><circle cx="146.3" cy="136.1" r="3.5"/><circle cx="146.7" cy="144.8" r="3.5"/><circle cx="129.1" cy="141.1" r="3.5"/><circle cx="171.0" cy="146.8" r="3.5"/><circle cx="162.8" cy="130.1" r="3.5"/><circle cx="121.6" cy="145.3" r="3.5"/><circle cx="95.0" cy="130.6" r="3.5"/><circle cx="95.1" cy="138.5" r="3.5"/><circle cx="177.5" cy="148.3" r="3.5"/><circle cx="162.8" cy="140.1" r="3.5"/><circle cx="170.1" cy="135.9" r="3.5"/><circle cx="97.4" cy="131.6" r="3.5"/><circle cx="121.8" cy="144.6" r="3.5"/><circle cx="106.9" cy="132.9" r="3.5"/><circle cx="164.8" cy="148.6" r="3.5"/><circle cx="174.5" cy="135.7" r="3.5"/><circle cx="171.8" cy="144.9" r="3.5"/><circle cx="113.1" cy="142.6" r="3.5"/><circle cx="111.8" cy="141.8" r="3.5"/><circle cx="83.0" cy="133.0" r="3.5"/><circle cx="103.5" cy="130.8" r="3.5"/><circle cx="113.2" cy="130.4" r="3.5"/><circle cx="169.9" cy="133.5" r="3.5"/><circle cx="141.7" cy="131.3" r="3.5"/><circle cx="176.2" cy="139.2" r="3.5"/><circle cx="153.0" cy="141.4" r="3.5"/><circle cx="155.3" cy="137.2" r="3.5"/><circle cx="174.6" cy="148.4" r="3.5"/><circle cx="124.2" cy="143.7" r="3.5"/><circle cx="104.8" cy="135.1" r="3.5"/><circle cx="180.1" cy="145.5" r="3.5"/><circle cx="144.6" cy="144.6" r="3.5"/><circle cx="133.6" cy="142.6" r="3.5"/><circle cx="94.9" cy="131.5" r="3.5"/><circle cx="126.9" cy="146.4" r="3.5"/><circle cx="134.9" cy="131.9" r="3.5"/><circle cx="155.0" cy="142.2" r="3.5"/><circle cx="117.7" cy="139.8" r="3.5"/><circle cx="113.6" cy="143.8" r="3.5"/><circle cx="179.2" cy="148.4" r="3.5"/><circle cx="127.7" cy="137.5" r="3.5"/><circle cx="167.5" cy="146.5" r="3.5"/><circle cx="116.1" cy="141.5" r="3.5"/><circle cx="177.6" cy="132.7" r="3.5"/><circle cx="168.7" cy="150.7" r="3.5"/><circle cx="171.1" cy="140.9" r="3.5"/><circle cx="115.2" cy="131.0" r="3.5"/><circle cx="163.4" cy="132.6" r="3.5"/><circle cx="179.7" cy="145.8" r="3.5"/><circle cx="129.7" cy="136.3" r="3.5"/><circle cx="176.3" cy="135.5" r="3.5"/><circle cx="143.6" cy="134.6" r="3.5"/><circle cx="122.5" cy="139.2" r="3.5"/><circle cx="76.1" cy="134.2" r="3.5"/><circle cx="97.6" cy="131.2" r="3.5"/><circle cx="143.4" cy="144.6" r="3.5"/><circle cx="142.4" cy="136.0" r="3.5"/><circle cx="130.0" cy="138.5" r="3.5"/><circle cx="105.2" cy="141.1" r="3.5"/><circle cx="178.2" cy="137.2" r="3.5"/><circle cx="169.8" cy="140.8" r="3.5"/><circle cx="178.3" cy="135.8" r="3.5"/><circle cx="127.1" cy="136.5" r="3.5"/><circle cx="145.8" cy="131.1" r="3.5"/><circle cx="109.3" cy="142.0" r="3.5"/><circle cx="147.5" cy="146.9" r="3.5"/><circle cx="160.2" cy="135.1" r="3.5"/><circle cx="179.4" cy="144.4" r="3.5"/><circle cx="162.8" cy="146.2" r="3.5"/><circle cx="96.3" cy="134.6" r="3.5"/><circle cx="104.5" cy="130.5" r="3.5"/><circle cx="145.5" cy="130.6" r="3.5"/><circle cx="171.5" cy="132.0" r="3.5"/><circle cx="175.1" cy="144.0" r="3.5"/><circle cx="92.4" cy="130.8" r="3.5"/><circle cx="145.5" cy="142.9" r="3.5"/><circle cx="113.2" cy="143.9" r="3.5"/><circle cx="177.8" cy="148.5" r="3.5"/><circle cx="178.8" cy="146.7" r="3.5"/><circle cx="111.3" cy="133.3" r="3.5"/><circle cx="162.9" cy="141.8" r="3.5"/><circle cx="113.1" cy="131.2" r="3.5"/><circle cx="171.3" cy="150.5" r="3.5"/><circle cx="117.3" cy="133.5" r="3.5"/><circle cx="156.8" cy="150.3" r="3.5"/><circle cx="173.9" cy="145.6" r="3.5"/><circle cx="154.7" cy="131.6" r="3.5"/><circle cx="178.0" cy="137.7" r="3.5"/><circle cx="100.8" cy="135.6" r="3.5"/><circle cx="173.5" cy="137.4" r="3.5"/><circle cx="97.7" cy="140.8" r="3.5"/><circle cx="119.5" cy="140.5" r="3.5"/><circle cx="174.8" cy="147.2" r="3.5"/><circle cx="160.8" cy="135.1" r="3.5"/><circle cx="163.0" cy="134.4" r="3.5"/><circle cx="139.2" cy="144.0" r="3.5"/><circle cx="107.2" cy="143.3" r="3.5"/><circle cx="158.6" cy="149.5" r="3.5"/><circle cx="93.6" cy="134.8" r="3.5"/><circle cx="107.9" cy="129.9" r="3.5"/><circle cx="150.5" cy="141.5" r="3.5"/><circle cx="140.6" cy="136.5" r="3.5"/><circle cx="154.7" cy="132.8" r="3.5"/><circle cx="145.5" cy="148.5" r="3.5"/><circle cx="165.1" cy="144.8" r="3.5"/><circle cx="134.7" cy="143.1" r="3.5"/><circle cx="153.7" cy="146.8" r="3.5"/><circle cx="88.7" cy="132.0" r="3.5"/><circle cx="135.9" cy="144.1" r="3.5"/><circle cx="128.1" cy="146.1" r="3.5"/><circle cx="161.4" cy="137.0" r="3.5"/><circle cx="124.4" cy="133.4" r="3.5"/><circle cx="165.0" cy="131.3" r="3.5"/><circle cx="179.8" cy="138.5" r="3.5"/><circle cx="175.0" cy="143.1" r="3.5"/><circle cx="167.9" cy="141.4" r="3.5"/><circle cx="100.6" cy="134.2" r="3.5"/><circle cx="176.7" cy="148.9" r="3.5"/><circle cx="137.9" cy="137.7" r="3.5"/><circle cx="100.1" cy="138.1" r="3.5"/><circle cx="144.1" cy="146.7" r="3.5"/><circle cx="147.0" cy="147.1" r="3.5"/><circle cx="160.0" cy="139.2" r="3.5"/><circle cx="115.6" cy="139.2" r="3.5"/><circle cx="89.9" cy="136.1" r="3.5"/><circle cx="117.2" cy="145.0" r="3.5"/><circle cx="105.9" cy="130.4" r="3.5"/><circle cx="106.4" cy="138.9" r="3.5"/><circle cx="111.4" cy="142.1" r="3.5"/><circle cx="152.6" cy="146.7" r="3.5"/><circle cx="72.4" cy="131.6" r="3.5"/><circle cx="118.8" cy="133.4" r="3.5"/><circle cx="116.8" cy="132.0" r="3.5"/><circle cx="142.8" cy="131.4" r="3.5"/><circle cx="112.9" cy="140.2" r="3.5"/><circle cx="129.6" cy="131.1" r="3.5"/><circle cx="161.0" cy="130.2" r="3.5"/><circle cx="174.5" cy="142.7" r="3.5"/><circle cx="172.1" cy="137.7" r="3.5"/><circle cx="163.3" cy="147.7" r="3.5"/><circle cx="159.0" cy="146.3" r="3.5"/><circle cx="116.6" cy="132.8" r="3.5"/><circle cx="163.8" cy="147.2" r="3.5"/><circle cx="129.2" cy="142.8" r="3.5"/><circle cx="152.2" cy="131.7" r="3.5"/><circle cx="155.8" cy="150.3" r="3.5"/><circle cx="164.8" cy="148.6" r="3.5"/><circle cx="138.3" cy="139.2" r="3.5"/><circle cx="141.3" cy="144.5" r="3.5"/><circle cx="118.4" cy="138.5" r="3.5"/><circle cx="119.0" cy="136.8" r="3.5"/><circle cx="121.4" cy="141.7" r="3.5"/><circle cx="126.1" cy="146.0" r="3.5"/><circle cx="156.5" cy="134.2" r="3.5"/><circle cx="153.2" cy="134.3" r="3.5"/><circle cx="127.7" cy="142.9" r="3.5"/><circle cx="177.3" cy="148.2" r="3.5"/><circle cx="153.0" cy="133.5" r="3.5"/><circle cx="126.3" cy="130.4" r="3.5"/><circle cx="173.4" cy="147.6" r="3.5"/><circle cx="159.2" cy="130.9" r="3.5"/><circle cx="155.7" cy="147.7" r="3.5"/><circle cx="171.2" cy="145.2" r="3.5"/><circle cx="162.3" cy="148.1" r="3.5"/><circle cx="127.5" cy="131.2" r="3.5"/><circle cx="127.9" cy="144.2" r="3.5"/><circle cx="89.6" cy="130.8" r="3.5"/><circle cx="147.2" cy="131.7" r="3.5"/><circle cx="90.5" cy="134.1" r="3.5"/><circle cx="142.4" cy="143.4" r="3.5"/><circle cx="168.7" cy="139.1" r="3.5"/><circle cx="136.1" cy="132.0" r="3.5"/><circle cx="141.7" cy="142.6" r="3.5"/><circle cx="160.3" cy="145.4" r="3.5"/><circle cx="181.7" cy="138.6" r="3.5"/><circle cx="111.8" cy="134.6" r="3.5"/><circle cx="154.2" cy="150.1" r="3.5"/><circle cx="162.8" cy="145.7" r="3.5"/><circle cx="142.7" cy="129.8" r="3.5"/><circle cx="136.8" cy="136.7" r="3.5"/><circle cx="140.2" cy="141.8" r="3.5"/><circle cx="128.6" cy="131.7" r="3.5"/><circle cx="96.7" cy="138.5" r="3.5"/><circle cx="137.1" cy="146.7" r="3.5"/><circle cx="141.0" cy="140.8" r="3.5"/><circle cx="86.7" cy="130.8" r="3.5"/><circle cx="82.3" cy="137.3" r="3.5"/><circle cx="168.5" cy="134.2" r="3.5"/><circle cx="134.2" cy="143.6" r="3.5"/><circle cx="143.4" cy="141.5" r="3.5"/><circle cx="175.8" cy="135.2" r="3.5"/><circle cx="99.3" cy="131.5" r="3.5"/><circle cx="78.2" cy="134.2" r="3.5"/><circle cx="176.2" cy="148.1" r="3.5"/><circle cx="93.9" cy="137.9" r="3.5"/><circle cx="128.0" cy="137.2" r="3.5"/><circle cx="162.0" cy="147.4" r="3.5"/><circle cx="77.1" cy="131.8" r="3.5"/><circle cx="158.6" cy="135.6" r="3.5"/><circle cx="72.5" cy="132.8" r="3.5"/><circle cx="154.5" cy="141.0" r="3.5"/><circle cx="154.1" cy="141.3" r="3.5"/><circle cx="109.0" cy="134.9" r="3.5"/><circle cx="148.9" cy="132.8" r="3.5"/><circle cx="150.8" cy="145.4" r="3.5"/><circle cx="133.2" cy="141.7" r="3.5"/><circle cx="159.3" cy="139.8" r="3.5"/><circle cx="101.1" cy="137.2" r="3.5"/><circle cx="178.8" cy="146.4" r="3.5"/><circle cx="169.4" cy="150.8" r="3.5"/><circle cx="154.3" cy="130.6" r="3.5"/><circle cx="154.6" cy="144.1" r="3.5"/><circle cx="169.4" cy="144.0" r="3.5"/><circle cx="98.2" cy="131.4" r="3.5"/><circle cx="141.7" cy="136.1" r="3.5"/><circle cx="145.5" cy="129.9" r="3.5"/><circle cx="123.8" cy="132.9" r="3.5"/><circle cx="149.2" cy="132.5" r="3.5"/><circle cx="120.3" cy="135.4" r="3.5"/><circle cx="135.0" cy="144.5" r="3.5"/><circle cx="95.3" cy="137.6" r="3.5"/><circle cx="80.4" cy="131.4" r="3.5"/><circle cx="83.6" cy="131.0" r="3.5"/><circle cx="148.6" cy="137.4" r="3.5"/><circle cx="149.1" cy="135.1" r="3.5"/><circle cx="112.1" cy="133.4" r="3.5"/><circle cx="162.7" cy="131.8" r="3.5"/><circle cx="79.0" cy="132.3" r="3.5"/><circle cx="173.2" cy="130.6" r="3.5"/><circle cx="165.8" cy="133.5" r="3.5"/><circle cx="142.1" cy="133.2" r="3.5"/><circle cx="141.8" cy="144.9" r="3.5"/><circle cx="155.8" cy="146.7" r="3.5"/><circle cx="107.2" cy="142.0" r="3.5"/><circle cx="103.1" cy="135.6" r="3.5"/><circle cx="112.6" cy="144.2" r="3.5"/><circle cx="178.8" cy="140.2" r="3.5"/><circle cx="166.3" cy="137.7" r="3.5"/><circle cx="120.2" cy="134.4" r="3.5"/><circle cx="110.3" cy="135.8" r="3.5"/><circle cx="131.5" cy="146.5" r="3.5"/><circle cx="167.4" cy="149.2" r="3.5"/><circle cx="162.8" cy="147.5" r="3.5"/><circle cx="156.3" cy="129.9" r="3.5"/><circle cx="126.3" cy="133.9" r="3.5"/><circle cx="92.2" cy="140.4" r="3.5"/><circle cx="110.3" cy="133.1" r="3.5"/><circle cx="100.7" cy="130.6" r="3.5"/><circle cx="149.4" cy="140.3" r="3.5"/><circle cx="83.9" cy="137.3" r="3.5"/><circle cx="80.7" cy="134.0" r="3.5"/><circle cx="149.1" cy="134.0" r="3.5"/><circle cx="141.4" cy="143.4" r="3.5"/><circle cx="116.3" cy="142.6" r="3.5"/><circle cx="170.6" cy="149.3" r="3.5"/><circle cx="170.4" cy="150.6" r="3.5"/><circle cx="171.8" cy="140.3" r="3.5"/><circle cx="113.8" cy="132.0" r="3.5"/><circle cx="97.7" cy="141.1" r="3.5"/><circle cx="130.7" cy="134.7" r="3.5"/><circle cx="155.3" cy="137.1" r="3.5"/><circle cx="110.4" cy="144.1" r="3.5"/><circle cx="89.0" cy="132.8" r="3.5"/><circle cx="145.2" cy="135.0" r="3.5"/><circle cx="157.6" cy="138.6" r="3.5"/><circle cx="170.0" cy="146.0" r="3.5"/><circle cx="149.8" cy="132.8" r="3.5"/><circle cx="180.0" cy="135.3" r="3.5"/><circle cx="180.9" cy="133.9" r="3.5"/><circle cx="153.2" cy="141.7" r="3.5"/><circle cx="93.5" cy="137.3" r="3.5"/><circle cx="116.1" cy="134.0" r="3.5"/><circle cx="148.7" cy="140.3" r="3.5"/><circle cx="141.9" cy="141.1" r="3.5"/><circle cx="87.5" cy="138.0" r="3.5"/><circle cx="116.6" cy="135.1" r="3.5"/><circle cx="172.5" cy="141.8" r="3.5"/><circle cx="135.4" cy="134.9" r="3.5"/><circle cx="151.9" cy="132.0" r="3.5"/><circle cx="157.6" cy="136.0" r="3.5"/><circle cx="166.3" cy="136.4" r="3.5"/><circle cx="143.0" cy="141.3" r="3.5"/><circle cx="106.4" cy="137.5" r="3.5"/><circle cx="158.6" cy="135.7" r="3.5"/><circle cx="141.7" cy="145.7" r="3.5"/><circle cx="118.8" cy="141.3" r="3.5"/><circle cx="140.7" cy="142.3" r="3.5"/><circle cx="146.7" cy="130.9" r="3.5"/><circle cx="92.0" cy="136.9" r="3.5"/><circle cx="158.1" cy="142.7" r="3.5"/><circle cx="126.1" cy="130.0" r="3.5"/><circle cx="89.6" cy="134.2" r="3.5"/><circle cx="176.1" cy="139.9" r="3.5"/><circle cx="131.8" cy="135.6" r="3.5"/><circle cx="128.6" cy="137.3" r="3.5"/><circle cx="163.8" cy="139.8" r="3.5"/><circle cx="117.3" cy="130.6" r="3.5"/><circle cx="95.1" cy="136.3" r="3.5"/><circle cx="115.3" cy="134.6" r="3.5"/><circle cx="118.5" cy="136.0" r="3.5"/><circle cx="96.7" cy="135.1" r="3.5"/><circle cx="176.1" cy="139.7" r="3.5"/><circle cx="96.0" cy="133.7" r="3.5"/><circle cx="86.1" cy="134.3" r="3.5"/><circle cx="161.6" cy="137.4" r="3.5"/><circle cx="123.8" cy="138.9" r="3.5"/><circle cx="96.8" cy="130.2" r="3.5"/><circle cx="110.9" cy="137.3" r="3.5"/><circle cx="162.6" cy="133.4" r="3.5"/><circle cx="123.7" cy="144.8" r="3.5"/><circle cx="164.3" cy="143.4" r="3.5"/><circle cx="166.2" cy="145.3" r="3.5"/><circle cx="105.2" cy="140.7" r="3.5"/><circle cx="119.3" cy="137.3" r="3.5"/><circle cx="144.9" cy="143.3" r="3.5"/><circle cx="174.8" cy="132.6" r="3.5"/><circle cx="78.0" cy="133.2" r="3.5"/><circle cx="172.3" cy="134.1" r="3.5"/><circle cx="87.3" cy="133.1" r="3.5"/><circle cx="144.6" cy="145.7" r="3.5"/><circle cx="97.7" cy="134.3" r="3.5"/><circle cx="172.1" cy="134.0" r="3.5"/><circle cx="90.4" cy="131.8" r="3.5"/><circle cx="139.3" cy="134.2" r="3.5"/><circle cx="146.0" cy="131.7" r="3.5"/><circle cx="159.2" cy="132.9" r="3.5"/><circle cx="93.6" cy="136.1" r="3.5"/><circle cx="130.6" cy="135.1" r="3.5"/><circle cx="120.4" cy="132.0" r="3.5"/><circle cx="133.4" cy="145.4" r="3.5"/><circle cx="126.2" cy="140.3" r="3.5"/><circle cx="131.6" cy="132.4" r="3.5"/><circle cx="72.5" cy="132.9" r="3.5"/><circle cx="123.7" cy="138.9" r="3.5"/><circle cx="145.6" cy="132.9" r="3.5"/><circle cx="113.3" cy="142.0" r="3.5"/><circle cx="178.3" cy="149.5" r="3.5"/><circle cx="142.5" cy="137.3" r="3.5"/><circle cx="147.5" cy="130.9" r="3.5"/><circle cx="128.4" cy="140.6" r="3.5"/><circle cx="171.4" cy="150.4" r="3.5"/><circle cx="151.4" cy="137.6" r="3.5"/><circle cx="109.3" cy="132.4" r="3.5"/><circle cx="112.4" cy="140.8" r="3.5"/><circle cx="130.1" cy="134.4" r="3.5"/><circle cx="118.6" cy="139.1" r="3.5"/><circle cx="163.5" cy="144.8" r="3.5"/><circle cx="163.6" cy="142.4" r="3.5"/><circle cx="127.7" cy="145.3" r="3.5"/><circle cx="128.0" cy="130.0" r="3.5"/><circle cx="144.4" cy="134.0" r="3.5"/><circle cx="105.0" cy="138.4" r="3.5"/><circle cx="142.2" cy="134.1" r="3.5"/><circle cx="76.2" cy="135.4" r="3.5"/><circle cx="170.1" cy="139.3" r="3.5"/><circle cx="174.0" cy="137.9" r="3.5"/><circle cx="208.9" cy="133.7" r="3.5"/><circle cx="218.9" cy="136.3" r="3.5"/><circle cx="207.3" cy="136.1" r="3.5"/><circle cx="210.4" cy="136.5" r="3.5"/><circle cx="209.8" cy="142.2" r="3.5"/><circle cx="209.2" cy="138.6" r="3.5"/><circle cx="213.1" cy="143.8" r="3.5"/><circle cx="189.9" cy="144.8" r="3.5"/><circle cx="213.5" cy="131.9" r="3.5"/><circle cx="208.8" cy="139.9" r="3.5"/><circle cx="215.5" cy="133.7" r="3.5"/><circle cx="205.1" cy="141.5" r="3.5"/><circle cx="194.7" cy="139.1" r="3.5"/><circle cx="195.4" cy="139.0" r="3.5"/><circle cx="208.2" cy="131.6" r="3.5"/><circle cx="184.9" cy="137.0" r="3.5"/><circle cx="184.3" cy="143.6" r="3.5"/><circle cx="215.0" cy="136.8" r="3.5"/><circle cx="219.3" cy="138.7" r="3.5"/><circle cx="183.3" cy="139.6" r="3.5"/><circle cx="206.3" cy="131.5" r="3.5"/><circle cx="221.7" cy="138.3" r="3.5"/><circle cx="199.1" cy="143.8" r="3.5"/><circle cx="208.3" cy="142.2" r="3.5"/><circle cx="188.8" cy="145.1" r="3.5"/><circle cx="182.9" cy="135.3" r="3.5"/><circle cx="186.2" cy="132.5" r="3.5"/><circle cx="187.9" cy="145.1" r="3.5"/><circle cx="211.3" cy="141.8" r="3.5"/><circle cx="211.9" cy="142.6" r="3.5"/><circle cx="184.7" cy="133.9" r="3.5"/><circle cx="211.1" cy="132.7" r="3.5"/><circle cx="211.7" cy="144.1" r="3.5"/><circle cx="207.8" cy="134.9" r="3.5"/><circle cx="201.0" cy="131.6" r="3.5"/><circle cx="192.8" cy="131.1" r="3.5"/><circle cx="183.3" cy="135.8" r="3.5"/><circle cx="195.1" cy="134.6" r="3.5"/><circle cx="189.4" cy="132.7" r="3.5"/><circle cx="202.0" cy="144.4" r="3.5"/><circle cx="197.3" cy="136.9" r="3.5"/><circle cx="200.2" cy="135.4" r="3.5"/><circle cx="188.5" cy="133.6" r="3.5"/><circle cx="197.1" cy="135.8" r="3.5"/><circle cx="207.8" cy="139.2" r="3.5"/><circle cx="198.1" cy="133.7" r="3.5"/><circle cx="205.3" cy="141.0" r="3.5"/><circle cx="210.7" cy="133.2" r="3.5"/><circle cx="195.9" cy="136.4" r="3.5"/><circle cx="206.7" cy="140.8" r="3.5"/><circle cx="199.8" cy="132.3" r="3.5"/><circle cx="197.7" cy="135.3" r="3.5"/><circle cx="206.7" cy="132.1" r="3.5"/><circle cx="214.9" cy="141.1" r="3.5"/><circle cx="182.8" cy="141.5" r="3.5"/><circle cx="199.6" cy="136.7" r="3.5"/><circle cx="215.2" cy="132.3" r="3.5"/><circle cx="184.4" cy="133.0" r="3.5"/><circle cx="215.0" cy="132.5" r="3.5"/><circle cx="205.5" cy="141.3" r="3.5"/><circle cx="216.6" cy="133.4" r="3.5"/><circle cx="210.0" cy="131.9" r="3.5"/><circle cx="196.5" cy="144.1" r="3.5"/><circle cx="204.8" cy="133.6" r="3.5"/><circle cx="190.7" cy="134.3" r="3.5"/><circle cx="219.8" cy="141.9" r="3.5"/><circle cx="206.8" cy="135.3" r="3.5"/><circle cx="201.2" cy="142.3" r="3.5"/><circle cx="192.8" cy="134.3" r="3.5"/><circle cx="214.2" cy="138.5" r="3.5"/><circle cx="186.2" cy="133.5" r="3.5"/><circle cx="213.5" cy="141.9" r="3.5"/><circle cx="205.8" cy="132.1" r="3.5"/><circle cx="217.9" cy="137.7" r="3.5"/><circle cx="201.7" cy="136.6" r="3.5"/><circle cx="185.8" cy="143.3" r="3.5"/><circle cx="185.6" cy="138.0" r="3.5"/><circle cx="190.1" cy="139.4" r="3.5"/><circle cx="191.1" cy="139.9" r="3.5"/><circle cx="184.8" cy="144.9" r="3.5"/><circle cx="183.7" cy="138.7" r="3.5"/><circle cx="200.6" cy="143.7" r="3.5"/><circle cx="195.9" cy="141.7" r="3.5"/><circle cx="181.9" cy="135.0" r="3.5"/><circle cx="202.6" cy="140.3" r="3.5"/><circle cx="195.2" cy="142.6" r="3.5"/><circle cx="200.5" cy="140.9" r="3.5"/><circle cx="187.4" cy="145.0" r="3.5"/><circle cx="186.0" cy="143.4" r="3.5"/><circle cx="194.9" cy="136.2" r="3.5"/><circle cx="192.4" cy="135.4" r="3.5"/><circle cx="195.9" cy="141.2" r="3.5"/><circle cx="184.1" cy="135.3" r="3.5"/><circle cx="187.5" cy="139.4" r="3.5"/><circle cx="197.7" cy="141.2" r="3.5"/><circle cx="192.3" cy="143.7" r="3.5"/><circle cx="186.6" cy="145.0" r="3.5"/>
</g>
<path d="M37.1 133.70H379.0" stroke="#000" stroke-width="1.6" fill="none"/>
<path d="M37.1 123.61H379.0M37.1 136.69H379.0M37.1 150.11H379.0" stroke="#000" stroke-width="1.6" stroke-dasharray="6.1 5.3" fill="none"/>
<text class="tt" x="207.3" y="12.4" text-anchor="middle">A</text>
<text class="ax" x="208.1" y="225.0" stroke-width="0.4" text-anchor="middle" textLength="118.5" lengthAdjust="spacingAndGlyphs">(SR BMI+M BMI)/2 (kg/m2)</text>
<text class="ax ay" stroke-width="0.4" transform="translate(8.6 109.0) rotate(-90)" text-anchor="middle" textLength="98.5" lengthAdjust="spacingAndGlyphs">SR BMI-M BMI(kg/m2)</text>
</g>
<g><rect x="434.0" y="22.0" width="341.8" height="173.9" fill="#d5d5d5"/>
<path d="M538.02 22.0V195.9M645.27 22.0V195.9M752.52 22.0V195.9M434.0 167.19H775.8M434.0 123.91H775.8M434.0 80.63H775.8M434.0 37.35H775.8" stroke="#f4f4f4" stroke-width="0.7" fill="none"/>
<path d="M484.40 22.0V195.9M591.65 22.0V195.9M698.90 22.0V195.9M434.0 188.83H775.8M434.0 145.55H775.8M434.0 102.27H775.8M434.0 58.99H775.8" stroke="#ffffff" stroke-width="1.35" fill="none"/>
<path d="M484.40 196.0v4.1M591.65 196.0v4.1M698.90 196.0v4.1M434.0 188.83h-4.4M434.0 145.55h-4.4M434.0 102.27h-4.4M434.0 58.99h-4.4" stroke="#1a1a1a" stroke-width="1.7" fill="none"/>
<text class="tk" transform="translate(484.4 211.6) scale(1.04 1)" text-anchor="middle">20</text>
<text class="tk" transform="translate(591.6 211.6) scale(1.04 1)" text-anchor="middle">30</text>
<text class="tk" transform="translate(698.9 211.6) scale(1.04 1)" text-anchor="middle">40</text>
<text class="tk" transform="translate(425.8 192.8) scale(1.04 1)" text-anchor="end">-10</text>
<text class="tk" transform="translate(425.8 149.6) scale(1.04 1)" text-anchor="end">0</text>
<text class="tk" transform="translate(425.8 106.3) scale(1.04 1)" text-anchor="end">10</text>
<text class="tk" transform="translate(425.8 63.0) scale(1.04 1)" text-anchor="end">20</text>
<g fill="#000">
<circle cx="512.6" cy="98.7" r="3.5"/><circle cx="760.4" cy="29.3" r="3.5"/><circle cx="497.1" cy="130.5" r="3.5"/><circle cx="542.2" cy="132.6" r="3.5"/><circle cx="470.5" cy="135.6" r="3.5"/><circle cx="474.3" cy="137.1" r="3.5"/><circle cx="461.7" cy="140.2" r="3.5"/><circle cx="449.5" cy="148.8" r="3.5"/><circle cx="455.8" cy="153.9" r="3.5"/><circle cx="475.7" cy="159.7" r="3.5"/><circle cx="473.4" cy="168.7" r="3.5"/><circle cx="489.2" cy="162.1" r="3.5"/><circle cx="488.2" cy="154.9" r="3.5"/><circle cx="470.1" cy="150.3" r="3.5"/><circle cx="464.6" cy="145.8" r="3.5"/><circle cx="468.8" cy="141.9" r="3.5"/><circle cx="475.3" cy="143.2" r="3.5"/><circle cx="476.9" cy="147.7" r="3.5"/><circle cx="483.9" cy="141.9" r="3.5"/><circle cx="487.6" cy="140.1" r="3.5"/><circle cx="490.8" cy="142.1" r="3.5"/><circle cx="485.5" cy="147.1" r="3.5"/><circle cx="489.8" cy="149.7" r="3.5"/><circle cx="494.1" cy="144.3" r="3.5"/><circle cx="496.2" cy="149.0" r="3.5"/><circle cx="550.9" cy="134.2" r="3.5"/><circle cx="573.4" cy="175.3" r="3.5"/><circle cx="572.3" cy="167.2" r="3.5"/><circle cx="576.6" cy="164.6" r="3.5"/><circle cx="599.2" cy="168.9" r="3.5"/><circle cx="593.8" cy="161.6" r="3.5"/><circle cx="607.7" cy="163.3" r="3.5"/><circle cx="632.6" cy="130.6" r="3.5"/><circle cx="647.4" cy="135.8" r="3.5"/><circle cx="668.4" cy="139.3" r="3.5"/><circle cx="662.4" cy="141.2" r="3.5"/><circle cx="675.0" cy="143.8" r="3.5"/><circle cx="682.8" cy="146.8" r="3.5"/><circle cx="695.4" cy="151.6" r="3.5"/><circle cx="681.7" cy="156.6" r="3.5"/><circle cx="685.0" cy="169.4" r="3.5"/><circle cx="652.2" cy="156.6" r="3.5"/><circle cx="646.9" cy="145.6" r="3.5"/><circle cx="647.4" cy="150.7" r="3.5"/><circle cx="626.0" cy="165.0" r="3.5"/><circle cx="607.2" cy="164.2" r="3.5"/><circle cx="630.8" cy="141.2" r="3.5"/><circle cx="622.8" cy="143.8" r="3.5"/><circle cx="638.3" cy="144.3" r="3.5"/><circle cx="607.7" cy="142.5" r="3.5"/><circle cx="659.8" cy="148.8" r="3.5"/><circle cx="666.2" cy="150.1" r="3.5"/><circle cx="671.0" cy="150.1" r="3.5"/><circle cx="676.4" cy="148.8" r="3.5"/><circle cx="666.2" cy="146.0" r="3.5"/><circle cx="661.4" cy="146.4" r="3.5"/><circle cx="616.9" cy="159.2" r="3.5"/><circle cx="613.1" cy="158.1" r="3.5"/><circle cx="628.7" cy="155.3" r="3.5"/><circle cx="636.2" cy="154.0" r="3.5"/><circle cx="639.4" cy="152.9" r="3.5"/><circle cx="623.8" cy="152.0" r="3.5"/><circle cx="619.5" cy="148.6" r="3.5"/><circle cx="633.5" cy="175.7" r="3.5"/><circle cx="709.3" cy="153.0" r="3.5"/><circle cx="717.7" cy="158.4" r="3.5"/><circle cx="735.6" cy="161.6" r="3.5"/><circle cx="745.0" cy="151.3" r="3.5"/><circle cx="685.5" cy="170.7" r="3.5"/><circle cx="678.5" cy="188.1" r="3.5"/><circle cx="612.0" cy="153.8" r="3.5"/><circle cx="617.4" cy="151.2" r="3.5"/><circle cx="628.1" cy="147.7" r="3.5"/><circle cx="633.5" cy="146.4" r="3.5"/><circle cx="615.2" cy="144.7" r="3.5"/><circle cx="623.8" cy="156.8" r="3.5"/><circle cx="637.8" cy="149.4" r="3.5"/><circle cx="524.2" cy="154.6" r="3.5"/><circle cx="598.0" cy="141.5" r="3.5"/><circle cx="590.3" cy="141.7" r="3.5"/><circle cx="575.8" cy="146.8" r="3.5"/><circle cx="568.6" cy="147.5" r="3.5"/><circle cx="511.5" cy="149.1" r="3.5"/><circle cx="580.9" cy="143.0" r="3.5"/><circle cx="529.1" cy="151.4" r="3.5"/><circle cx="562.4" cy="148.9" r="3.5"/><circle cx="531.9" cy="151.0" r="3.5"/><circle cx="524.3" cy="145.5" r="3.5"/><circle cx="514.3" cy="145.5" r="3.5"/><circle cx="522.3" cy="144.9" r="3.5"/><circle cx="496.5" cy="143.9" r="3.5"/><circle cx="576.6" cy="148.6" r="3.5"/><circle cx="600.6" cy="147.9" r="3.5"/><circle cx="520.2" cy="141.0" r="3.5"/><circle cx="596.2" cy="152.5" r="3.5"/><circle cx="511.0" cy="150.9" r="3.5"/><circle cx="600.8" cy="148.4" r="3.5"/><circle cx="590.9" cy="152.3" r="3.5"/><circle cx="533.7" cy="152.4" r="3.5"/><circle cx="588.6" cy="155.0" r="3.5"/><circle cx="511.3" cy="148.1" r="3.5"/><circle cx="520.3" cy="142.6" r="3.5"/><circle cx="558.1" cy="146.6" r="3.5"/><circle cx="511.5" cy="146.7" r="3.5"/><circle cx="541.9" cy="151.5" r="3.5"/><circle cx="512.8" cy="150.1" r="3.5"/><circle cx="533.2" cy="140.8" r="3.5"/><circle cx="514.2" cy="152.8" r="3.5"/><circle cx="597.8" cy="148.8" r="3.5"/><circle cx="508.1" cy="147.5" r="3.5"/><circle cx="596.9" cy="149.2" r="3.5"/><circle cx="571.1" cy="147.8" r="3.5"/><circle cx="527.6" cy="144.2" r="3.5"/><circle cx="524.4" cy="147.8" r="3.5"/><circle cx="607.7" cy="145.1" r="3.5"/><circle cx="608.6" cy="147.3" r="3.5"/><circle cx="528.1" cy="149.9" r="3.5"/><circle cx="597.0" cy="142.5" r="3.5"/><circle cx="528.5" cy="146.5" r="3.5"/><circle cx="606.3" cy="141.2" r="3.5"/><circle cx="533.8" cy="148.2" r="3.5"/><circle cx="511.1" cy="140.8" r="3.5"/><circle cx="555.0" cy="148.9" r="3.5"/><circle cx="516.3" cy="157.8" r="3.5"/><circle cx="519.9" cy="145.2" r="3.5"/><circle cx="560.1" cy="147.2" r="3.5"/><circle cx="582.7" cy="146.9" r="3.5"/><circle cx="576.0" cy="148.4" r="3.5"/><circle cx="505.1" cy="147.4" r="3.5"/><circle cx="564.3" cy="152.5" r="3.5"/><circle cx="518.5" cy="148.9" r="3.5"/><circle cx="564.7" cy="151.1" r="3.5"/><circle cx="561.4" cy="156.6" r="3.5"/><circle cx="518.1" cy="142.6" r="3.5"/><circle cx="541.6" cy="146.2" r="3.5"/><circle cx="577.2" cy="141.6" r="3.5"/><circle cx="533.2" cy="146.3" r="3.5"/><circle cx="590.8" cy="145.7" r="3.5"/><circle cx="496.8" cy="152.8" r="3.5"/><circle cx="598.6" cy="157.7" r="3.5"/><circle cx="525.4" cy="147.7" r="3.5"/><circle cx="516.3" cy="147.0" r="3.5"/><circle cx="513.7" cy="152.6" r="3.5"/><circle cx="537.3" cy="149.4" r="3.5"/><circle cx="554.2" cy="149.2" r="3.5"/><circle cx="545.9" cy="151.2" r="3.5"/><circle cx="576.3" cy="149.2" r="3.5"/><circle cx="588.0" cy="146.5" r="3.5"/><circle cx="576.0" cy="151.9" r="3.5"/><circle cx="538.5" cy="149.0" r="3.5"/><circle cx="594.3" cy="150.6" r="3.5"/><circle cx="603.6" cy="154.2" r="3.5"/><circle cx="555.4" cy="148.8" r="3.5"/><circle cx="556.3" cy="137.8" r="3.5"/><circle cx="520.5" cy="147.5" r="3.5"/><circle cx="515.8" cy="146.4" r="3.5"/><circle cx="588.0" cy="147.0" r="3.5"/><circle cx="498.6" cy="143.5" r="3.5"/><circle cx="517.3" cy="145.2" r="3.5"/><circle cx="497.2" cy="153.6" r="3.5"/><circle cx="554.5" cy="152.3" r="3.5"/><circle cx="575.0" cy="142.0" r="3.5"/><circle cx="576.6" cy="143.7" r="3.5"/><circle cx="500.3" cy="145.4" r="3.5"/><circle cx="552.1" cy="145.5" r="3.5"/><circle cx="526.9" cy="145.9" r="3.5"/><circle cx="510.7" cy="145.9" r="3.5"/><circle cx="562.4" cy="147.5" r="3.5"/><circle cx="560.2" cy="150.9" r="3.5"/><circle cx="580.0" cy="144.9" r="3.5"/><circle cx="601.7" cy="142.0" r="3.5"/><circle cx="539.3" cy="156.3" r="3.5"/><circle cx="554.9" cy="145.0" r="3.5"/><circle cx="540.1" cy="142.0" r="3.5"/><circle cx="533.6" cy="151.7" r="3.5"/><circle cx="522.5" cy="151.3" r="3.5"/><circle cx="606.7" cy="145.0" r="3.5"/><circle cx="586.6" cy="142.2" r="3.5"/><circle cx="591.4" cy="153.2" r="3.5"/><circle cx="601.3" cy="150.2" r="3.5"/><circle cx="523.4" cy="154.4" r="3.5"/><circle cx="536.5" cy="146.1" r="3.5"/><circle cx="555.5" cy="144.8" r="3.5"/><circle cx="552.5" cy="147.1" r="3.5"/><circle cx="497.5" cy="141.7" r="3.5"/><circle cx="583.4" cy="140.2" r="3.5"/><circle cx="601.6" cy="154.3" r="3.5"/><circle cx="595.6" cy="154.9" r="3.5"/><circle cx="595.7" cy="143.0" r="3.5"/><circle cx="525.4" cy="147.7" r="3.5"/><circle cx="572.2" cy="149.8" r="3.5"/><circle cx="600.2" cy="143.6" r="3.5"/><circle cx="565.8" cy="149.0" r="3.5"/><circle cx="544.5" cy="143.8" r="3.5"/><circle cx="603.2" cy="149.9" r="3.5"/><circle cx="568.7" cy="145.4" r="3.5"/><circle cx="508.9" cy="158.0" r="3.5"/><circle cx="553.6" cy="155.1" r="3.5"/><circle cx="525.7" cy="154.2" r="3.5"/><circle cx="512.0" cy="147.9" r="3.5"/><circle cx="509.2" cy="146.5" r="3.5"/><circle cx="541.3" cy="146.4" r="3.5"/><circle cx="527.9" cy="148.9" r="3.5"/><circle cx="557.2" cy="147.2" r="3.5"/><circle cx="590.6" cy="153.3" r="3.5"/><circle cx="569.0" cy="152.6" r="3.5"/><circle cx="518.0" cy="150.2" r="3.5"/><circle cx="557.4" cy="153.7" r="3.5"/><circle cx="564.8" cy="152.7" r="3.5"/><circle cx="522.7" cy="148.3" r="3.5"/><circle cx="520.3" cy="153.3" r="3.5"/><circle cx="561.7" cy="149.4" r="3.5"/><circle cx="496.5" cy="154.2" r="3.5"/><circle cx="522.3" cy="142.1" r="3.5"/><circle cx="558.4" cy="152.6" r="3.5"/><circle cx="607.4" cy="148.8" r="3.5"/><circle cx="528.7" cy="148.7" r="3.5"/><circle cx="502.7" cy="151.5" r="3.5"/><circle cx="594.2" cy="150.4" r="3.5"/><circle cx="539.2" cy="148.4" r="3.5"/><circle cx="545.1" cy="149.2" r="3.5"/><circle cx="520.8" cy="151.1" r="3.5"/><circle cx="604.2" cy="149.2" r="3.5"/><circle cx="533.4" cy="151.5" r="3.5"/><circle cx="535.2" cy="151.7" r="3.5"/><circle cx="591.8" cy="154.3" r="3.5"/><circle cx="588.4" cy="156.1" r="3.5"/><circle cx="579.6" cy="149.8" r="3.5"/><circle cx="581.5" cy="156.5" r="3.5"/><circle cx="575.7" cy="147.8" r="3.5"/><circle cx="599.2" cy="142.9" r="3.5"/><circle cx="495.7" cy="142.7" r="3.5"/><circle cx="582.2" cy="153.4" r="3.5"/><circle cx="604.6" cy="151.6" r="3.5"/><circle cx="560.1" cy="155.6" r="3.5"/><circle cx="594.3" cy="145.3" r="3.5"/><circle cx="564.2" cy="152.5" r="3.5"/><circle cx="547.1" cy="145.8" r="3.5"/><circle cx="577.3" cy="150.2" r="3.5"/><circle cx="558.3" cy="144.9" r="3.5"/><circle cx="538.9" cy="152.3" r="3.5"/><circle cx="591.8" cy="142.2" r="3.5"/><circle cx="552.0" cy="151.6" r="3.5"/><circle cx="529.7" cy="148.1" r="3.5"/><circle cx="511.6" cy="154.1" r="3.5"/><circle cx="505.1" cy="151.6" r="3.5"/><circle cx="599.7" cy="152.7" r="3.5"/><circle cx="590.4" cy="141.6" r="3.5"/><circle cx="604.1" cy="147.7" r="3.5"/><circle cx="598.6" cy="144.6" r="3.5"/><circle cx="496.3" cy="143.7" r="3.5"/><circle cx="551.6" cy="147.4" r="3.5"/><circle cx="599.8" cy="148.2" r="3.5"/><circle cx="608.6" cy="154.3" r="3.5"/><circle cx="553.9" cy="155.5" r="3.5"/><circle cx="539.4" cy="149.7" r="3.5"/><circle cx="535.8" cy="152.3" r="3.5"/><circle cx="602.9" cy="151.3" r="3.5"/><circle cx="572.0" cy="151.0" r="3.5"/><circle cx="537.7" cy="149.3" r="3.5"/><circle cx="540.7" cy="154.2" r="3.5"/><circle cx="595.2" cy="151.1" r="3.5"/><circle cx="604.7" cy="153.6" r="3.5"/><circle cx="566.1" cy="148.6" r="3.5"/><circle cx="608.4" cy="152.0" r="3.5"/><circle cx="587.9" cy="144.6" r="3.5"/><circle cx="514.5" cy="154.0" r="3.5"/><circle cx="589.1" cy="138.1" r="3.5"/><circle cx="553.4" cy="142.0" r="3.5"/><circle cx="573.5" cy="143.1" r="3.5"/><circle cx="588.4" cy="140.0" r="3.5"/><circle cx="543.0" cy="149.6" r="3.5"/><circle cx="512.9" cy="150.3" r="3.5"/><circle cx="552.5" cy="144.0" r="3.5"/><circle cx="516.5" cy="146.5" r="3.5"/><circle cx="563.7" cy="143.4" r="3.5"/><circle cx="535.2" cy="142.9" r="3.5"/><circle cx="500.0" cy="149.3" r="3.5"/><circle cx="541.9" cy="148.1" r="3.5"/><circle cx="573.6" cy="152.6" r="3.5"/><circle cx="495.6" cy="151.8" r="3.5"/><circle cx="561.7" cy="141.2" r="3.5"/><circle cx="571.1" cy="147.3" r="3.5"/><circle cx="558.0" cy="144.2" r="3.5"/><circle cx="525.4" cy="152.2" r="3.5"/><circle cx="608.5" cy="153.3" r="3.5"/><circle cx="560.4" cy="150.9" r="3.5"/><circle cx="512.9" cy="147.8" r="3.5"/><circle cx="581.5" cy="147.5" r="3.5"/><circle cx="514.5" cy="147.8" r="3.5"/><circle cx="554.5" cy="146.4" r="3.5"/><circle cx="586.8" cy="154.3" r="3.5"/><circle cx="502.2" cy="141.6" r="3.5"/><circle cx="531.8" cy="148.4" r="3.5"/><circle cx="576.4" cy="150.6" r="3.5"/><circle cx="525.5" cy="146.9" r="3.5"/><circle cx="506.4" cy="144.3" r="3.5"/><circle cx="534.8" cy="152.3" r="3.5"/><circle cx="546.3" cy="150.1" r="3.5"/><circle cx="596.4" cy="148.1" r="3.5"/><circle cx="561.4" cy="144.5" r="3.5"/><circle cx="565.6" cy="150.2" r="3.5"/><circle cx="523.4" cy="139.4" r="3.5"/><circle cx="592.3" cy="146.3" r="3.5"/><circle cx="530.9" cy="142.6" r="3.5"/><circle cx="529.7" cy="153.7" r="3.5"/><circle cx="563.7" cy="144.1" r="3.5"/><circle cx="603.1" cy="150.3" r="3.5"/><circle cx="522.8" cy="154.3" r="3.5"/><circle cx="520.3" cy="144.6" r="3.5"/><circle cx="530.3" cy="145.5" r="3.5"/><circle cx="585.2" cy="152.5" r="3.5"/><circle cx="522.8" cy="147.1" r="3.5"/><circle cx="516.4" cy="145.4" r="3.5"/><circle cx="605.6" cy="150.4" r="3.5"/><circle cx="508.2" cy="143.6" r="3.5"/><circle cx="555.8" cy="152.3" r="3.5"/><circle cx="502.5" cy="146.1" r="3.5"/><circle cx="509.2" cy="147.2" r="3.5"/><circle cx="523.0" cy="152.6" r="3.5"/><circle cx="516.9" cy="149.7" r="3.5"/><circle cx="499.1" cy="145.9" r="3.5"/><circle cx="570.6" cy="150.4" r="3.5"/><circle cx="575.3" cy="146.9" r="3.5"/><circle cx="505.6" cy="150.0" r="3.5"/><circle cx="509.6" cy="140.9" r="3.5"/><circle cx="545.5" cy="145.0" r="3.5"/><circle cx="513.3" cy="155.7" r="3.5"/><circle cx="535.2" cy="149.7" r="3.5"/><circle cx="604.1" cy="153.2" r="3.5"/><circle cx="518.8" cy="144.1" r="3.5"/><circle cx="521.0" cy="150.6" r="3.5"/><circle cx="546.6" cy="144.4" r="3.5"/><circle cx="524.7" cy="144.0" r="3.5"/><circle cx="597.4" cy="152.6" r="3.5"/><circle cx="523.1" cy="151.2" r="3.5"/><circle cx="564.3" cy="147.0" r="3.5"/><circle cx="509.1" cy="140.5" r="3.5"/><circle cx="553.5" cy="152.3" r="3.5"/><circle cx="582.9" cy="149.9" r="3.5"/><circle cx="538.9" cy="152.1" r="3.5"/><circle cx="530.4" cy="153.7" r="3.5"/><circle cx="539.4" cy="146.7" r="3.5"/><circle cx="591.9" cy="147.6" r="3.5"/><circle cx="531.6" cy="150.1" r="3.5"/><circle cx="559.0" cy="150.8" r="3.5"/><circle cx="536.2" cy="152.6" r="3.5"/><circle cx="502.6" cy="149.0" r="3.5"/><circle cx="530.5" cy="148.7" r="3.5"/><circle cx="576.6" cy="146.8" r="3.5"/><circle cx="527.2" cy="156.8" r="3.5"/><circle cx="583.2" cy="143.6" r="3.5"/><circle cx="595.5" cy="147.5" r="3.5"/><circle cx="526.5" cy="150.8" r="3.5"/><circle cx="498.4" cy="151.7" r="3.5"/><circle cx="535.1" cy="154.8" r="3.5"/><circle cx="542.0" cy="152.6" r="3.5"/><circle cx="523.3" cy="154.6" r="3.5"/><circle cx="591.4" cy="152.6" r="3.5"/><circle cx="515.8" cy="144.1" r="3.5"/><circle cx="508.2" cy="143.0" r="3.5"/><circle cx="576.1" cy="152.7" r="3.5"/><circle cx="499.7" cy="146.5" r="3.5"/><circle cx="517.6" cy="148.4" r="3.5"/><circle cx="529.6" cy="149.9" r="3.5"/><circle cx="530.5" cy="148.2" r="3.5"/><circle cx="567.7" cy="145.5" r="3.5"/><circle cx="559.9" cy="141.5" r="3.5"/><circle cx="576.6" cy="149.1" r="3.5"/><circle cx="572.9" cy="144.4" r="3.5"/><circle cx="534.8" cy="140.8" r="3.5"/><circle cx="583.4" cy="149.0" r="3.5"/><circle cx="527.7" cy="140.8" r="3.5"/><circle cx="564.2" cy="146.8" r="3.5"/><circle cx="500.5" cy="148.9" r="3.5"/><circle cx="585.1" cy="146.9" r="3.5"/><circle cx="519.0" cy="142.8" r="3.5"/><circle cx="504.9" cy="152.7" r="3.5"/><circle cx="574.1" cy="154.6" r="3.5"/><circle cx="589.3" cy="144.6" r="3.5"/><circle cx="527.1" cy="140.2" r="3.5"/><circle cx="543.3" cy="143.4" r="3.5"/><circle cx="600.9" cy="151.6" r="3.5"/><circle cx="589.5" cy="155.6" r="3.5"/><circle cx="566.6" cy="150.4" r="3.5"/><circle cx="574.5" cy="148.6" r="3.5"/><circle cx="543.8" cy="158.9" r="3.5"/><circle cx="509.6" cy="149.7" r="3.5"/><circle cx="581.8" cy="142.5" r="3.5"/><circle cx="586.7" cy="147.2" r="3.5"/><circle cx="567.6" cy="152.3" r="3.5"/><circle cx="557.0" cy="149.0" r="3.5"/><circle cx="535.8" cy="147.5" r="3.5"/><circle cx="541.9" cy="147.9" r="3.5"/><circle cx="510.7" cy="145.5" r="3.5"/><circle cx="575.5" cy="150.5" r="3.5"/><circle cx="522.6" cy="151.8" r="3.5"/><circle cx="553.7" cy="158.6" r="3.5"/><circle cx="535.1" cy="145.6" r="3.5"/><circle cx="529.1" cy="147.2" r="3.5"/><circle cx="559.2" cy="150.6" r="3.5"/><circle cx="533.1" cy="146.8" r="3.5"/><circle cx="581.6" cy="154.0" r="3.5"/><circle cx="514.3" cy="152.0" r="3.5"/><circle cx="547.6" cy="154.1" r="3.5"/><circle cx="582.2" cy="148.0" r="3.5"/><circle cx="528.1" cy="150.9" r="3.5"/><circle cx="536.1" cy="148.6" r="3.5"/><circle cx="527.1" cy="147.5" r="3.5"/><circle cx="517.5" cy="150.4" r="3.5"/><circle cx="508.0" cy="153.5" r="3.5"/><circle cx="532.0" cy="153.0" r="3.5"/><circle cx="514.2" cy="148.2" r="3.5"/><circle cx="580.4" cy="148.1" r="3.5"/><circle cx="504.7" cy="151.5" r="3.5"/><circle cx="507.5" cy="153.6" r="3.5"/><circle cx="516.7" cy="148.7" r="3.5"/><circle cx="556.9" cy="139.3" r="3.5"/><circle cx="568.4" cy="148.5" r="3.5"/><circle cx="566.4" cy="143.2" r="3.5"/><circle cx="523.7" cy="151.5" r="3.5"/><circle cx="523.1" cy="148.4" r="3.5"/><circle cx="583.2" cy="148.2" r="3.5"/><circle cx="590.6" cy="149.8" r="3.5"/><circle cx="567.6" cy="146.4" r="3.5"/><circle cx="591.2" cy="146.7" r="3.5"/><circle cx="584.4" cy="150.2" r="3.5"/><circle cx="589.5" cy="149.2" r="3.5"/><circle cx="516.1" cy="152.9" r="3.5"/><circle cx="589.0" cy="150.8" r="3.5"/><circle cx="557.8" cy="145.2" r="3.5"/><circle cx="537.1" cy="147.5" r="3.5"/><circle cx="499.8" cy="151.8" r="3.5"/><circle cx="559.6" cy="154.6" r="3.5"/><circle cx="575.3" cy="154.8" r="3.5"/><circle cx="598.1" cy="144.3" r="3.5"/><circle cx="552.0" cy="150.7" r="3.5"/><circle cx="513.0" cy="150.7" r="3.5"/><circle cx="504.2" cy="143.6" r="3.5"/><circle cx="573.3" cy="146.6" r="3.5"/><circle cx="605.4" cy="145.0" r="3.5"/><circle cx="505.3" cy="144.5" r="3.5"/><circle cx="516.8" cy="147.8" r="3.5"/><circle cx="577.3" cy="140.7" r="3.5"/><circle cx="592.4" cy="148.9" r="3.5"/><circle cx="584.6" cy="152.2" r="3.5"/><circle cx="570.3" cy="147.4" r="3.5"/><circle cx="553.6" cy="152.5" r="3.5"/><circle cx="545.0" cy="147.2" r="3.5"/><circle cx="570.8" cy="144.7" r="3.5"/><circle cx="513.8" cy="157.3" r="3.5"/><circle cx="528.7" cy="154.2" r="3.5"/><circle cx="534.7" cy="147.1" r="3.5"/><circle cx="517.3" cy="145.7" r="3.5"/><circle cx="547.5" cy="147.1" r="3.5"/><circle cx="605.6" cy="141.7" r="3.5"/><circle cx="605.9" cy="153.7" r="3.5"/><circle cx="604.5" cy="154.8" r="3.5"/><circle cx="502.0" cy="154.4" r="3.5"/><circle cx="572.0" cy="151.8" r="3.5"/><circle cx="560.0" cy="151.3" r="3.5"/><circle cx="603.4" cy="155.2" r="3.5"/><circle cx="529.1" cy="148.3" r="3.5"/><circle cx="534.2" cy="148.2" r="3.5"/><circle cx="516.6" cy="149.7" r="3.5"/><circle cx="572.2" cy="150.7" r="3.5"/><circle cx="570.2" cy="148.4" r="3.5"/><circle cx="537.4" cy="153.0" r="3.5"/><circle cx="555.4" cy="151.2" r="3.5"/><circle cx="559.4" cy="150.7" r="3.5"/><circle cx="515.6" cy="147.7" r="3.5"/><circle cx="596.3" cy="151.0" r="3.5"/><circle cx="593.2" cy="149.7" r="3.5"/><circle cx="524.0" cy="144.6" r="3.5"/><circle cx="523.8" cy="146.0" r="3.5"/><circle cx="550.8" cy="152.0" r="3.5"/><circle cx="560.2" cy="150.1" r="3.5"/><circle cx="508.0" cy="154.8" r="3.5"/><circle cx="504.2" cy="149.5" r="3.5"/><circle cx="541.6" cy="144.9" r="3.5"/><circle cx="593.3" cy="146.9" r="3.5"/><circle cx="557.8" cy="150.6" r="3.5"/><circle cx="508.1" cy="156.1" r="3.5"/><circle cx="607.7" cy="149.4" r="3.5"/><circle cx="589.5" cy="151.0" r="3.5"/><circle cx="539.6" cy="143.8" r="3.5"/><circle cx="559.2" cy="139.4" r="3.5"/><circle cx="583.2" cy="144.1" r="3.5"/><circle cx="501.7" cy="143.3" r="3.5"/><circle cx="522.0" cy="149.5" r="3.5"/><circle cx="562.7" cy="148.4" r="3.5"/><circle cx="519.4" cy="151.1" r="3.5"/><circle cx="543.6" cy="142.6" r="3.5"/><circle cx="596.2" cy="155.4" r="3.5"/><circle cx="559.2" cy="155.1" r="3.5"/><circle cx="599.5" cy="147.2" r="3.5"/><circle cx="579.9" cy="150.9" r="3.5"/><circle cx="624.8" cy="148.6" r="3.5"/><circle cx="638.3" cy="154.2" r="3.5"/><circle cx="618.7" cy="153.0" r="3.5"/><circle cx="641.6" cy="144.9" r="3.5"/><circle cx="635.4" cy="144.5" r="3.5"/><circle cx="618.0" cy="147.8" r="3.5"/><circle cx="630.6" cy="148.4" r="3.5"/><circle cx="641.1" cy="150.6" r="3.5"/><circle cx="634.1" cy="149.1" r="3.5"/><circle cx="627.7" cy="146.8" r="3.5"/><circle cx="638.6" cy="150.5" r="3.5"/><circle cx="615.8" cy="149.8" r="3.5"/><circle cx="618.4" cy="148.3" r="3.5"/><circle cx="630.7" cy="151.1" r="3.5"/><circle cx="488.2" cy="147.5" r="3.5"/><circle cx="486.2" cy="149.1" r="3.5"/><circle cx="495.7" cy="150.9" r="3.5"/><circle cx="494.8" cy="147.5" r="3.5"/><circle cx="496.6" cy="143.6" r="3.5"/><circle cx="486.3" cy="146.2" r="3.5"/><circle cx="490.8" cy="142.6" r="3.5"/><circle cx="484.8" cy="150.3" r="3.5"/>
</g>
<path d="M434.0 145.55H775.8" stroke="#000" stroke-width="1.6" fill="none"/>
<path d="M434.0 132.65H775.8M434.0 148.23H775.8M434.0 164.03H775.8" stroke="#000" stroke-width="1.6" stroke-dasharray="6.1 5.3" fill="none"/>
<text class="tt" x="604.4" y="12.4" text-anchor="middle">B</text>
<text class="ax" x="604.9" y="225.0" stroke-width="0.15" text-anchor="middle" textLength="118.5" lengthAdjust="spacingAndGlyphs">(SR BMI+M BMI)/2 (kg/m2)</text>
<text class="ax ay" stroke-width="0.15" transform="translate(405.5 109.0) rotate(-90)" text-anchor="middle" textLength="98.5" lengthAdjust="spacingAndGlyphs">SR BMI-M BMI(kg/m2)</text>
</g>
<g><rect x="37.1" y="264.1" width="341.9" height="172.7" fill="#d5d5d5"/>
<path d="M51.29 264.1V436.8M134.69 264.1V436.8M217.52 264.1V436.8M300.36 264.1V436.8M37.1 419.19H379.0M37.1 381.91H379.0M37.1 344.64H379.0M37.1 307.36H379.0M37.1 270.09H379.0" stroke="#f4f4f4" stroke-width="0.7" fill="none"/>
<path d="M93.28 264.1V436.8M176.11 264.1V436.8M258.94 264.1V436.8M341.77 264.1V436.8M37.1 400.55H379.0M37.1 363.27H379.0M37.1 326.00H379.0M37.1 288.73H379.0" stroke="#ffffff" stroke-width="1.35" fill="none"/>
<path d="M93.28 438.7v4.1M176.11 438.7v4.1M258.94 438.7v4.1M341.77 438.7v4.1M37.1 437.82h-4.4M37.1 400.55h-4.4M37.1 363.27h-4.4M37.1 326.00h-4.4M37.1 288.73h-4.4" stroke="#1a1a1a" stroke-width="1.7" fill="none"/>
<text class="tk" transform="translate(93.3 454.3) scale(1.04 1)" text-anchor="middle">20</text>
<text class="tk" transform="translate(176.1 454.3) scale(1.04 1)" text-anchor="middle">30</text>
<text class="tk" transform="translate(258.9 454.3) scale(1.04 1)" text-anchor="middle">40</text>
<text class="tk" transform="translate(341.8 454.3) scale(1.04 1)" text-anchor="middle">50</text>
<text class="tk" transform="translate(28.9 441.8) scale(1.04 1)" text-anchor="end">-15</text>
<text class="tk" transform="translate(28.9 404.6) scale(1.04 1)" text-anchor="end">-10</text>
<text class="tk" transform="translate(28.9 367.3) scale(1.04 1)" text-anchor="end">-5</text>
<text class="tk" transform="translate(28.9 330.0) scale(1.04 1)" text-anchor="end">0</text>
<text class="tk" transform="translate(28.9 292.7) scale(1.04 1)" text-anchor="end">5</text>
<g fill="#000">
<circle cx="146.7" cy="271.8" r="3.5"/><circle cx="98.0" cy="296.7" r="3.5"/><circle cx="123.1" cy="306.2" r="3.5"/><circle cx="114.8" cy="310.6" r="3.5"/><circle cx="129.7" cy="311.8" r="3.5"/><circle cx="101.6" cy="315.2" r="3.5"/><circle cx="142.1" cy="315.9" r="3.5"/><circle cx="84.2" cy="316.3" r="3.5"/><circle cx="70.9" cy="318.9" r="3.5"/><circle cx="52.4" cy="327.1" r="3.5"/><circle cx="62.6" cy="330.8" r="3.5"/><circle cx="70.9" cy="326.0" r="3.5"/><circle cx="157.8" cy="289.2" r="3.5"/><circle cx="160.9" cy="303.1" r="3.5"/><circle cx="172.4" cy="301.6" r="3.5"/><circle cx="166.6" cy="308.5" r="3.5"/><circle cx="252.0" cy="316.3" r="3.5"/><circle cx="257.3" cy="322.8" r="3.5"/><circle cx="227.5" cy="318.5" r="3.5"/><circle cx="218.4" cy="319.7" r="3.5"/><circle cx="242.0" cy="323.4" r="3.5"/><circle cx="228.3" cy="327.5" r="3.5"/><circle cx="244.9" cy="330.5" r="3.5"/><circle cx="239.1" cy="335.7" r="3.5"/><circle cx="211.7" cy="319.3" r="3.5"/><circle cx="208.4" cy="319.3" r="3.5"/><circle cx="189.4" cy="319.3" r="3.5"/><circle cx="184.4" cy="318.5" r="3.5"/><circle cx="181.9" cy="321.5" r="3.5"/><circle cx="86.7" cy="338.4" r="3.5"/><circle cx="91.6" cy="342.4" r="3.5"/><circle cx="101.6" cy="343.1" r="3.5"/><circle cx="112.3" cy="349.9" r="3.5"/><circle cx="119.8" cy="350.6" r="3.5"/><circle cx="114.8" cy="357.8" r="3.5"/><circle cx="114.8" cy="362.5" r="3.5"/><circle cx="125.6" cy="369.2" r="3.5"/><circle cx="138.0" cy="356.2" r="3.5"/><circle cx="153.7" cy="362.5" r="3.5"/><circle cx="153.7" cy="369.2" r="3.5"/><circle cx="248.2" cy="375.5" r="3.5"/><circle cx="184.9" cy="381.9" r="3.5"/><circle cx="171.1" cy="380.0" r="3.5"/><circle cx="163.7" cy="376.7" r="3.5"/><circle cx="168.7" cy="372.2" r="3.5"/><circle cx="178.6" cy="374.5" r="3.5"/><circle cx="181.5" cy="370.5" r="3.5"/><circle cx="157.9" cy="370.0" r="3.5"/><circle cx="163.7" cy="366.3" r="3.5"/><circle cx="154.6" cy="364.8" r="3.5"/><circle cx="189.4" cy="362.5" r="3.5"/><circle cx="199.3" cy="361.6" r="3.5"/><circle cx="210.1" cy="363.1" r="3.5"/><circle cx="178.6" cy="359.2" r="3.5"/><circle cx="219.2" cy="357.7" r="3.5"/><circle cx="239.9" cy="354.6" r="3.5"/><circle cx="196.0" cy="353.8" r="3.5"/><circle cx="197.6" cy="357.7" r="3.5"/><circle cx="188.5" cy="349.9" r="3.5"/><circle cx="229.1" cy="350.3" r="3.5"/><circle cx="220.8" cy="348.9" r="3.5"/><circle cx="242.0" cy="343.8" r="3.5"/><circle cx="246.9" cy="334.1" r="3.5"/><circle cx="237.4" cy="330.7" r="3.5"/><circle cx="229.1" cy="337.6" r="3.5"/><circle cx="243.2" cy="325.3" r="3.5"/><circle cx="229.9" cy="325.3" r="3.5"/><circle cx="205.1" cy="349.1" r="3.5"/><circle cx="210.9" cy="347.6" r="3.5"/><circle cx="155.4" cy="358.5" r="3.5"/><circle cx="143.0" cy="358.1" r="3.5"/><circle cx="301.2" cy="322.6" r="3.5"/><circle cx="275.2" cy="334.3" r="3.5"/><circle cx="264.2" cy="340.9" r="3.5"/><circle cx="284.5" cy="350.9" r="3.5"/><circle cx="363.9" cy="336.7" r="3.5"/><circle cx="261.7" cy="390.0" r="3.5"/><circle cx="195.6" cy="430.4" r="3.5"/><circle cx="256.3" cy="429.3" r="3.5"/><circle cx="225.8" cy="340.9" r="3.5"/><circle cx="220.0" cy="337.9" r="3.5"/><circle cx="233.3" cy="337.2" r="3.5"/><circle cx="222.5" cy="332.0" r="3.5"/><circle cx="234.1" cy="323.8" r="3.5"/><circle cx="216.7" cy="345.4" r="3.5"/><circle cx="201.0" cy="352.1" r="3.5"/><circle cx="167.8" cy="361.8" r="3.5"/><circle cx="174.5" cy="358.1" r="3.5"/><circle cx="161.2" cy="360.3" r="3.5"/><circle cx="149.6" cy="359.5" r="3.5"/><circle cx="186.0" cy="355.8" r="3.5"/><circle cx="131.2" cy="344.3" r="3.5"/><circle cx="118.9" cy="325.0" r="3.5"/><circle cx="141.4" cy="320.0" r="3.5"/><circle cx="135.8" cy="343.0" r="3.5"/><circle cx="167.0" cy="347.5" r="3.5"/><circle cx="106.0" cy="325.5" r="3.5"/><circle cx="91.8" cy="335.2" r="3.5"/><circle cx="142.6" cy="344.0" r="3.5"/><circle cx="147.3" cy="341.7" r="3.5"/><circle cx="106.6" cy="335.1" r="3.5"/><circle cx="122.0" cy="347.0" r="3.5"/><circle cx="159.9" cy="330.4" r="3.5"/><circle cx="98.8" cy="335.5" r="3.5"/><circle cx="130.1" cy="323.0" r="3.5"/><circle cx="152.7" cy="347.5" r="3.5"/><circle cx="180.5" cy="354.6" r="3.5"/><circle cx="118.1" cy="327.9" r="3.5"/><circle cx="156.6" cy="335.6" r="3.5"/><circle cx="168.9" cy="346.4" r="3.5"/><circle cx="148.9" cy="334.7" r="3.5"/><circle cx="136.1" cy="340.5" r="3.5"/><circle cx="165.0" cy="320.1" r="3.5"/><circle cx="124.3" cy="331.8" r="3.5"/><circle cx="78.5" cy="330.2" r="3.5"/><circle cx="162.9" cy="347.7" r="3.5"/><circle cx="114.6" cy="331.7" r="3.5"/><circle cx="78.3" cy="327.5" r="3.5"/><circle cx="115.1" cy="323.2" r="3.5"/><circle cx="132.7" cy="322.6" r="3.5"/><circle cx="162.7" cy="323.5" r="3.5"/><circle cx="102.6" cy="342.2" r="3.5"/><circle cx="111.6" cy="322.6" r="3.5"/><circle cx="178.0" cy="353.2" r="3.5"/><circle cx="97.7" cy="339.3" r="3.5"/><circle cx="137.1" cy="348.6" r="3.5"/><circle cx="112.7" cy="335.9" r="3.5"/><circle cx="177.5" cy="330.7" r="3.5"/><circle cx="129.0" cy="333.8" r="3.5"/><circle cx="171.6" cy="327.0" r="3.5"/><circle cx="168.8" cy="326.2" r="3.5"/><circle cx="115.3" cy="342.9" r="3.5"/><circle cx="83.3" cy="333.1" r="3.5"/><circle cx="74.6" cy="323.0" r="3.5"/><circle cx="139.9" cy="353.4" r="3.5"/><circle cx="123.4" cy="339.3" r="3.5"/><circle cx="163.8" cy="352.8" r="3.5"/><circle cx="130.4" cy="318.7" r="3.5"/><circle cx="167.6" cy="330.5" r="3.5"/><circle cx="90.3" cy="327.3" r="3.5"/><circle cx="130.9" cy="327.0" r="3.5"/><circle cx="166.4" cy="325.9" r="3.5"/><circle cx="162.6" cy="328.7" r="3.5"/><circle cx="96.9" cy="337.9" r="3.5"/><circle cx="100.5" cy="330.6" r="3.5"/><circle cx="177.9" cy="340.9" r="3.5"/><circle cx="177.8" cy="344.3" r="3.5"/><circle cx="141.0" cy="322.0" r="3.5"/><circle cx="165.0" cy="339.5" r="3.5"/><circle cx="144.2" cy="326.1" r="3.5"/><circle cx="81.2" cy="332.0" r="3.5"/><circle cx="172.7" cy="326.9" r="3.5"/><circle cx="155.0" cy="339.6" r="3.5"/><circle cx="91.5" cy="326.6" r="3.5"/><circle cx="108.7" cy="326.1" r="3.5"/><circle cx="179.6" cy="343.0" r="3.5"/><circle cx="116.3" cy="320.0" r="3.5"/><circle cx="152.2" cy="352.5" r="3.5"/><circle cx="172.2" cy="325.9" r="3.5"/><circle cx="88.0" cy="325.0" r="3.5"/><circle cx="180.6" cy="332.1" r="3.5"/><circle cx="110.7" cy="336.7" r="3.5"/><circle cx="179.5" cy="332.4" r="3.5"/><circle cx="130.2" cy="320.6" r="3.5"/><circle cx="119.9" cy="323.2" r="3.5"/><circle cx="163.4" cy="350.8" r="3.5"/><circle cx="98.4" cy="335.1" r="3.5"/><circle cx="86.3" cy="321.5" r="3.5"/><circle cx="111.0" cy="340.4" r="3.5"/><circle cx="136.5" cy="321.8" r="3.5"/><circle cx="118.5" cy="321.2" r="3.5"/><circle cx="127.4" cy="337.3" r="3.5"/><circle cx="152.3" cy="336.3" r="3.5"/><circle cx="107.9" cy="337.9" r="3.5"/><circle cx="133.4" cy="326.8" r="3.5"/><circle cx="157.5" cy="338.4" r="3.5"/><circle cx="134.1" cy="327.8" r="3.5"/><circle cx="173.0" cy="341.1" r="3.5"/><circle cx="139.7" cy="338.4" r="3.5"/><circle cx="128.6" cy="330.6" r="3.5"/><circle cx="121.9" cy="337.3" r="3.5"/><circle cx="124.8" cy="320.3" r="3.5"/><circle cx="149.4" cy="322.9" r="3.5"/><circle cx="176.4" cy="348.7" r="3.5"/><circle cx="133.9" cy="320.2" r="3.5"/><circle cx="165.0" cy="353.8" r="3.5"/><circle cx="79.9" cy="331.6" r="3.5"/><circle cx="158.7" cy="322.1" r="3.5"/><circle cx="88.9" cy="329.7" r="3.5"/><circle cx="145.0" cy="353.6" r="3.5"/><circle cx="169.7" cy="319.1" r="3.5"/><circle cx="96.1" cy="319.8" r="3.5"/><circle cx="116.0" cy="339.2" r="3.5"/><circle cx="129.0" cy="345.4" r="3.5"/><circle cx="133.2" cy="341.1" r="3.5"/><circle cx="141.0" cy="338.2" r="3.5"/><circle cx="159.2" cy="319.0" r="3.5"/><circle cx="76.1" cy="327.0" r="3.5"/><circle cx="118.6" cy="321.5" r="3.5"/><circle cx="162.6" cy="348.7" r="3.5"/><circle cx="88.3" cy="321.2" r="3.5"/><circle cx="135.1" cy="330.3" r="3.5"/><circle cx="148.1" cy="341.8" r="3.5"/><circle cx="79.8" cy="320.4" r="3.5"/><circle cx="142.1" cy="326.1" r="3.5"/><circle cx="81.0" cy="323.8" r="3.5"/><circle cx="79.1" cy="323.5" r="3.5"/><circle cx="122.1" cy="345.4" r="3.5"/><circle cx="133.1" cy="320.9" r="3.5"/><circle cx="130.2" cy="349.6" r="3.5"/><circle cx="156.1" cy="347.5" r="3.5"/><circle cx="153.1" cy="336.5" r="3.5"/><circle cx="92.8" cy="339.7" r="3.5"/><circle cx="175.4" cy="355.1" r="3.5"/><circle cx="162.6" cy="341.5" r="3.5"/><circle cx="126.7" cy="324.7" r="3.5"/><circle cx="115.4" cy="338.4" r="3.5"/><circle cx="148.1" cy="318.5" r="3.5"/><circle cx="109.8" cy="324.8" r="3.5"/><circle cx="150.2" cy="333.0" r="3.5"/><circle cx="116.6" cy="345.0" r="3.5"/><circle cx="79.6" cy="328.6" r="3.5"/><circle cx="81.1" cy="324.4" r="3.5"/><circle cx="168.4" cy="331.5" r="3.5"/><circle cx="104.3" cy="340.4" r="3.5"/><circle cx="101.0" cy="319.4" r="3.5"/><circle cx="179.7" cy="336.7" r="3.5"/><circle cx="98.9" cy="319.2" r="3.5"/><circle cx="124.4" cy="338.5" r="3.5"/><circle cx="94.0" cy="338.4" r="3.5"/><circle cx="136.8" cy="337.5" r="3.5"/><circle cx="155.1" cy="332.1" r="3.5"/><circle cx="151.2" cy="322.9" r="3.5"/><circle cx="115.0" cy="345.9" r="3.5"/><circle cx="181.1" cy="353.3" r="3.5"/><circle cx="152.1" cy="332.7" r="3.5"/><circle cx="76.6" cy="324.7" r="3.5"/><circle cx="170.7" cy="333.4" r="3.5"/><circle cx="153.2" cy="325.6" r="3.5"/><circle cx="127.7" cy="324.7" r="3.5"/><circle cx="161.0" cy="325.0" r="3.5"/><circle cx="136.6" cy="322.3" r="3.5"/><circle cx="147.5" cy="330.6" r="3.5"/><circle cx="83.4" cy="324.7" r="3.5"/><circle cx="133.7" cy="333.3" r="3.5"/><circle cx="141.2" cy="331.1" r="3.5"/><circle cx="160.3" cy="328.3" r="3.5"/><circle cx="127.6" cy="337.2" r="3.5"/><circle cx="153.5" cy="349.0" r="3.5"/><circle cx="152.7" cy="351.0" r="3.5"/><circle cx="153.8" cy="318.8" r="3.5"/><circle cx="126.6" cy="343.6" r="3.5"/><circle cx="124.9" cy="331.0" r="3.5"/><circle cx="156.9" cy="333.8" r="3.5"/><circle cx="154.2" cy="346.9" r="3.5"/><circle cx="146.3" cy="330.6" r="3.5"/><circle cx="146.7" cy="347.4" r="3.5"/><circle cx="129.1" cy="340.2" r="3.5"/><circle cx="171.0" cy="351.2" r="3.5"/><circle cx="162.8" cy="319.1" r="3.5"/><circle cx="121.6" cy="348.4" r="3.5"/><circle cx="95.0" cy="320.0" r="3.5"/><circle cx="95.1" cy="335.2" r="3.5"/><circle cx="177.5" cy="354.0" r="3.5"/><circle cx="162.8" cy="338.3" r="3.5"/><circle cx="170.1" cy="330.2" r="3.5"/><circle cx="97.4" cy="322.0" r="3.5"/><circle cx="121.8" cy="346.9" r="3.5"/><circle cx="106.9" cy="324.4" r="3.5"/><circle cx="164.8" cy="354.6" r="3.5"/><circle cx="174.5" cy="329.8" r="3.5"/><circle cx="171.8" cy="347.5" r="3.5"/><circle cx="113.1" cy="343.1" r="3.5"/><circle cx="111.8" cy="341.7" r="3.5"/><circle cx="83.0" cy="324.7" r="3.5"/><circle cx="103.5" cy="320.5" r="3.5"/><circle cx="113.2" cy="319.7" r="3.5"/><circle cx="169.9" cy="325.6" r="3.5"/><circle cx="141.7" cy="321.4" r="3.5"/><circle cx="176.2" cy="336.6" r="3.5"/><circle cx="153.0" cy="340.8" r="3.5"/><circle cx="155.3" cy="332.6" r="3.5"/><circle cx="174.6" cy="354.3" r="3.5"/><circle cx="124.2" cy="345.2" r="3.5"/><circle cx="104.8" cy="328.7" r="3.5"/><circle cx="180.1" cy="348.7" r="3.5"/><circle cx="144.6" cy="347.0" r="3.5"/><circle cx="133.6" cy="343.1" r="3.5"/><circle cx="94.9" cy="321.8" r="3.5"/><circle cx="126.9" cy="350.4" r="3.5"/><circle cx="134.9" cy="322.5" r="3.5"/><circle cx="155.0" cy="342.3" r="3.5"/><circle cx="117.7" cy="337.6" r="3.5"/><circle cx="113.6" cy="345.5" r="3.5"/><circle cx="179.2" cy="354.3" r="3.5"/><circle cx="127.7" cy="333.2" r="3.5"/><circle cx="167.5" cy="350.5" r="3.5"/><circle cx="116.1" cy="340.9" r="3.5"/><circle cx="177.6" cy="324.1" r="3.5"/><circle cx="168.7" cy="358.7" r="3.5"/><circle cx="171.1" cy="339.8" r="3.5"/><circle cx="115.2" cy="320.9" r="3.5"/><circle cx="163.4" cy="323.8" r="3.5"/><circle cx="179.7" cy="349.2" r="3.5"/><circle cx="129.7" cy="331.1" r="3.5"/><circle cx="176.3" cy="329.4" r="3.5"/><circle cx="143.6" cy="327.6" r="3.5"/><circle cx="122.5" cy="336.5" r="3.5"/><circle cx="76.1" cy="326.9" r="3.5"/><circle cx="97.6" cy="321.2" r="3.5"/><circle cx="143.4" cy="346.9" r="3.5"/><circle cx="142.4" cy="330.4" r="3.5"/><circle cx="130.0" cy="335.2" r="3.5"/><circle cx="105.2" cy="340.3" r="3.5"/><circle cx="178.2" cy="332.6" r="3.5"/><circle cx="169.8" cy="339.7" r="3.5"/><circle cx="178.3" cy="330.1" r="3.5"/><circle cx="127.1" cy="331.4" r="3.5"/><circle cx="145.8" cy="320.9" r="3.5"/><circle cx="109.3" cy="342.0" r="3.5"/><circle cx="147.5" cy="351.3" r="3.5"/><circle cx="160.2" cy="328.7" r="3.5"/><circle cx="179.4" cy="346.5" r="3.5"/><circle cx="162.8" cy="349.9" r="3.5"/><circle cx="96.3" cy="327.8" r="3.5"/><circle cx="104.5" cy="319.8" r="3.5"/><circle cx="145.5" cy="320.0" r="3.5"/><circle cx="171.5" cy="322.6" r="3.5"/><circle cx="175.1" cy="345.8" r="3.5"/><circle cx="92.4" cy="320.5" r="3.5"/><circle cx="145.5" cy="343.7" r="3.5"/><circle cx="113.2" cy="345.7" r="3.5"/><circle cx="177.8" cy="354.4" r="3.5"/><circle cx="178.8" cy="350.9" r="3.5"/><circle cx="111.3" cy="325.3" r="3.5"/><circle cx="162.9" cy="341.5" r="3.5"/><circle cx="113.1" cy="321.2" r="3.5"/><circle cx="171.3" cy="358.3" r="3.5"/><circle cx="117.3" cy="325.6" r="3.5"/><circle cx="156.8" cy="357.8" r="3.5"/><circle cx="173.9" cy="348.8" r="3.5"/><circle cx="154.7" cy="322.0" r="3.5"/><circle cx="178.0" cy="333.8" r="3.5"/><circle cx="100.8" cy="329.7" r="3.5"/><circle cx="173.5" cy="333.1" r="3.5"/><circle cx="97.7" cy="339.7" r="3.5"/><circle cx="119.5" cy="339.0" r="3.5"/><circle cx="174.8" cy="351.9" r="3.5"/><circle cx="160.8" cy="328.7" r="3.5"/><circle cx="163.0" cy="327.3" r="3.5"/><circle cx="139.2" cy="345.8" r="3.5"/><circle cx="107.2" cy="344.4" r="3.5"/><circle cx="158.6" cy="356.3" r="3.5"/><circle cx="93.6" cy="328.1" r="3.5"/><circle cx="107.9" cy="318.6" r="3.5"/><circle cx="150.5" cy="340.9" r="3.5"/><circle cx="140.6" cy="331.4" r="3.5"/><circle cx="154.7" cy="324.2" r="3.5"/><circle cx="145.5" cy="354.5" r="3.5"/><circle cx="165.1" cy="347.2" r="3.5"/><circle cx="134.7" cy="344.0" r="3.5"/><circle cx="153.7" cy="351.2" r="3.5"/><circle cx="88.7" cy="322.6" r="3.5"/><circle cx="135.9" cy="345.9" r="3.5"/><circle cx="128.1" cy="349.9" r="3.5"/><circle cx="161.4" cy="332.3" r="3.5"/><circle cx="124.4" cy="325.3" r="3.5"/><circle cx="165.0" cy="321.4" r="3.5"/><circle cx="179.8" cy="335.2" r="3.5"/><circle cx="175.0" cy="344.0" r="3.5"/><circle cx="167.9" cy="340.8" r="3.5"/><circle cx="100.6" cy="327.0" r="3.5"/><circle cx="176.7" cy="355.1" r="3.5"/><circle cx="137.9" cy="333.7" r="3.5"/><circle cx="100.1" cy="334.5" r="3.5"/><circle cx="144.1" cy="351.0" r="3.5"/><circle cx="147.0" cy="351.8" r="3.5"/><circle cx="160.0" cy="336.7" r="3.5"/><circle cx="115.6" cy="336.6" r="3.5"/><circle cx="89.9" cy="330.5" r="3.5"/><circle cx="117.2" cy="347.7" r="3.5"/><circle cx="105.9" cy="319.7" r="3.5"/><circle cx="106.4" cy="335.9" r="3.5"/><circle cx="111.4" cy="342.2" r="3.5"/><circle cx="152.6" cy="351.0" r="3.5"/><circle cx="72.4" cy="321.9" r="3.5"/><circle cx="118.8" cy="325.3" r="3.5"/><circle cx="116.8" cy="322.7" r="3.5"/><circle cx="142.8" cy="321.6" r="3.5"/><circle cx="112.9" cy="338.5" r="3.5"/><circle cx="129.6" cy="320.9" r="3.5"/><circle cx="161.0" cy="319.2" r="3.5"/><circle cx="174.5" cy="343.4" r="3.5"/><circle cx="172.1" cy="333.7" r="3.5"/><circle cx="163.3" cy="352.8" r="3.5"/><circle cx="159.0" cy="350.3" r="3.5"/><circle cx="116.6" cy="324.2" r="3.5"/><circle cx="163.8" cy="351.9" r="3.5"/><circle cx="129.2" cy="343.5" r="3.5"/><circle cx="152.2" cy="322.1" r="3.5"/><circle cx="155.8" cy="358.0" r="3.5"/><circle cx="164.8" cy="354.6" r="3.5"/><circle cx="138.3" cy="336.6" r="3.5"/><circle cx="141.3" cy="346.8" r="3.5"/><circle cx="118.4" cy="335.2" r="3.5"/><circle cx="119.0" cy="332.0" r="3.5"/><circle cx="121.4" cy="341.3" r="3.5"/><circle cx="126.1" cy="349.7" r="3.5"/><circle cx="156.5" cy="327.0" r="3.5"/><circle cx="153.2" cy="327.1" r="3.5"/><circle cx="127.7" cy="343.7" r="3.5"/><circle cx="177.3" cy="353.9" r="3.5"/><circle cx="153.0" cy="325.6" r="3.5"/><circle cx="126.3" cy="319.6" r="3.5"/><circle cx="173.4" cy="352.7" r="3.5"/><circle cx="159.2" cy="320.7" r="3.5"/><circle cx="155.7" cy="352.9" r="3.5"/><circle cx="171.2" cy="348.1" r="3.5"/><circle cx="162.3" cy="353.6" r="3.5"/><circle cx="127.5" cy="321.2" r="3.5"/><circle cx="127.9" cy="346.2" r="3.5"/><circle cx="89.6" cy="320.5" r="3.5"/><circle cx="147.2" cy="322.2" r="3.5"/><circle cx="90.5" cy="326.7" r="3.5"/><circle cx="142.4" cy="344.6" r="3.5"/><circle cx="168.7" cy="336.4" r="3.5"/><circle cx="136.1" cy="322.7" r="3.5"/><circle cx="141.7" cy="343.1" r="3.5"/><circle cx="160.3" cy="348.5" r="3.5"/><circle cx="181.7" cy="335.5" r="3.5"/><circle cx="111.8" cy="327.6" r="3.5"/><circle cx="154.2" cy="357.5" r="3.5"/><circle cx="162.8" cy="349.0" r="3.5"/><circle cx="142.7" cy="318.5" r="3.5"/><circle cx="136.8" cy="331.8" r="3.5"/><circle cx="140.2" cy="341.5" r="3.5"/><circle cx="128.6" cy="322.1" r="3.5"/><circle cx="96.7" cy="335.2" r="3.5"/><circle cx="137.1" cy="351.0" r="3.5"/><circle cx="141.0" cy="339.7" r="3.5"/><circle cx="86.7" cy="320.5" r="3.5"/><circle cx="82.3" cy="332.9" r="3.5"/><circle cx="168.5" cy="326.9" r="3.5"/><circle cx="134.2" cy="344.9" r="3.5"/><circle cx="143.4" cy="341.0" r="3.5"/><circle cx="175.8" cy="328.9" r="3.5"/><circle cx="99.3" cy="321.8" r="3.5"/><circle cx="78.2" cy="327.0" r="3.5"/><circle cx="176.2" cy="353.6" r="3.5"/><circle cx="93.9" cy="334.1" r="3.5"/><circle cx="128.0" cy="332.8" r="3.5"/><circle cx="162.0" cy="352.2" r="3.5"/><circle cx="77.1" cy="322.4" r="3.5"/><circle cx="158.6" cy="329.7" r="3.5"/><circle cx="72.5" cy="324.3" r="3.5"/><circle cx="154.5" cy="340.1" r="3.5"/><circle cx="154.1" cy="340.7" r="3.5"/><circle cx="109.0" cy="328.2" r="3.5"/><circle cx="148.9" cy="324.3" r="3.5"/><circle cx="150.8" cy="348.4" r="3.5"/><circle cx="133.2" cy="341.4" r="3.5"/><circle cx="159.3" cy="337.7" r="3.5"/><circle cx="101.1" cy="332.7" r="3.5"/><circle cx="178.8" cy="350.5" r="3.5"/><circle cx="169.4" cy="358.9" r="3.5"/><circle cx="154.3" cy="320.1" r="3.5"/><circle cx="154.6" cy="345.9" r="3.5"/><circle cx="169.4" cy="345.8" r="3.5"/><circle cx="98.2" cy="321.7" r="3.5"/><circle cx="141.7" cy="330.6" r="3.5"/><circle cx="145.5" cy="318.7" r="3.5"/><circle cx="123.8" cy="324.5" r="3.5"/><circle cx="149.2" cy="323.8" r="3.5"/><circle cx="120.3" cy="329.3" r="3.5"/><circle cx="135.0" cy="346.7" r="3.5"/><circle cx="95.3" cy="333.5" r="3.5"/><circle cx="80.4" cy="321.5" r="3.5"/><circle cx="83.6" cy="320.8" r="3.5"/><circle cx="148.6" cy="333.1" r="3.5"/><circle cx="149.1" cy="328.8" r="3.5"/><circle cx="112.1" cy="325.4" r="3.5"/><circle cx="162.7" cy="322.3" r="3.5"/><circle cx="79.0" cy="323.3" r="3.5"/><circle cx="173.2" cy="320.1" r="3.5"/><circle cx="165.8" cy="325.6" r="3.5"/><circle cx="142.1" cy="325.1" r="3.5"/><circle cx="141.8" cy="347.5" r="3.5"/><circle cx="155.8" cy="351.0" r="3.5"/><circle cx="107.2" cy="341.9" r="3.5"/><circle cx="103.1" cy="329.7" r="3.5"/><circle cx="112.6" cy="346.1" r="3.5"/><circle cx="178.8" cy="338.5" r="3.5"/><circle cx="166.3" cy="333.8" r="3.5"/><circle cx="120.2" cy="327.3" r="3.5"/><circle cx="110.3" cy="330.1" r="3.5"/><circle cx="131.5" cy="350.5" r="3.5"/><circle cx="167.4" cy="355.7" r="3.5"/><circle cx="162.8" cy="352.5" r="3.5"/><circle cx="156.3" cy="318.7" r="3.5"/><circle cx="126.3" cy="326.3" r="3.5"/><circle cx="92.2" cy="338.9" r="3.5"/><circle cx="110.3" cy="324.8" r="3.5"/><circle cx="100.7" cy="320.1" r="3.5"/><circle cx="149.4" cy="338.7" r="3.5"/><circle cx="83.9" cy="333.0" r="3.5"/><circle cx="80.7" cy="326.7" r="3.5"/><circle cx="149.1" cy="326.7" r="3.5"/><circle cx="141.4" cy="344.7" r="3.5"/><circle cx="116.3" cy="343.1" r="3.5"/><circle cx="170.6" cy="356.0" r="3.5"/><circle cx="170.4" cy="358.5" r="3.5"/><circle cx="171.8" cy="338.6" r="3.5"/><circle cx="113.8" cy="322.6" r="3.5"/><circle cx="97.7" cy="340.3" r="3.5"/><circle cx="130.7" cy="328.0" r="3.5"/><circle cx="155.3" cy="332.6" r="3.5"/><circle cx="110.4" cy="345.9" r="3.5"/><circle cx="89.0" cy="324.4" r="3.5"/><circle cx="145.2" cy="328.5" r="3.5"/><circle cx="157.6" cy="335.4" r="3.5"/><circle cx="170.0" cy="349.6" r="3.5"/><circle cx="149.8" cy="324.4" r="3.5"/><circle cx="180.0" cy="329.1" r="3.5"/><circle cx="180.9" cy="326.4" r="3.5"/><circle cx="153.2" cy="341.4" r="3.5"/><circle cx="93.5" cy="332.9" r="3.5"/><circle cx="116.1" cy="326.5" r="3.5"/><circle cx="148.7" cy="338.7" r="3.5"/><circle cx="141.9" cy="340.2" r="3.5"/><circle cx="87.5" cy="334.3" r="3.5"/><circle cx="116.6" cy="328.6" r="3.5"/><circle cx="172.5" cy="341.6" r="3.5"/><circle cx="135.4" cy="328.3" r="3.5"/><circle cx="151.9" cy="322.8" r="3.5"/><circle cx="157.6" cy="330.3" r="3.5"/><circle cx="166.3" cy="331.1" r="3.5"/><circle cx="143.0" cy="340.6" r="3.5"/><circle cx="106.4" cy="333.3" r="3.5"/><circle cx="158.6" cy="329.8" r="3.5"/><circle cx="141.7" cy="349.1" r="3.5"/><circle cx="118.8" cy="340.5" r="3.5"/><circle cx="140.7" cy="342.5" r="3.5"/><circle cx="146.7" cy="320.7" r="3.5"/><circle cx="92.0" cy="332.2" r="3.5"/><circle cx="158.1" cy="343.3" r="3.5"/><circle cx="126.1" cy="318.8" r="3.5"/><circle cx="89.6" cy="326.9" r="3.5"/><circle cx="176.1" cy="337.9" r="3.5"/><circle cx="131.8" cy="329.6" r="3.5"/><circle cx="128.6" cy="332.9" r="3.5"/><circle cx="163.8" cy="337.8" r="3.5"/><circle cx="117.3" cy="320.0" r="3.5"/><circle cx="95.1" cy="331.0" r="3.5"/><circle cx="115.3" cy="327.7" r="3.5"/><circle cx="118.5" cy="330.4" r="3.5"/><circle cx="96.7" cy="328.6" r="3.5"/><circle cx="176.1" cy="337.6" r="3.5"/><circle cx="96.0" cy="326.1" r="3.5"/><circle cx="86.1" cy="327.1" r="3.5"/><circle cx="161.6" cy="333.1" r="3.5"/><circle cx="123.8" cy="336.1" r="3.5"/><circle cx="96.8" cy="319.3" r="3.5"/><circle cx="110.9" cy="332.9" r="3.5"/><circle cx="162.6" cy="325.5" r="3.5"/><circle cx="123.7" cy="347.2" r="3.5"/><circle cx="164.3" cy="344.7" r="3.5"/><circle cx="166.2" cy="348.4" r="3.5"/><circle cx="105.2" cy="339.5" r="3.5"/><circle cx="119.3" cy="332.9" r="3.5"/><circle cx="144.9" cy="344.4" r="3.5"/><circle cx="174.8" cy="323.9" r="3.5"/><circle cx="78.0" cy="325.0" r="3.5"/><circle cx="172.3" cy="326.8" r="3.5"/><circle cx="87.3" cy="324.8" r="3.5"/><circle cx="144.6" cy="349.1" r="3.5"/><circle cx="97.7" cy="327.1" r="3.5"/><circle cx="172.1" cy="326.5" r="3.5"/><circle cx="90.4" cy="322.3" r="3.5"/><circle cx="139.3" cy="326.9" r="3.5"/><circle cx="146.0" cy="322.2" r="3.5"/><circle cx="159.2" cy="324.5" r="3.5"/><circle cx="93.6" cy="330.6" r="3.5"/><circle cx="130.6" cy="328.6" r="3.5"/><circle cx="120.4" cy="322.7" r="3.5"/><circle cx="133.4" cy="348.5" r="3.5"/><circle cx="126.2" cy="338.7" r="3.5"/><circle cx="131.6" cy="323.5" r="3.5"/><circle cx="72.5" cy="324.4" r="3.5"/><circle cx="123.7" cy="336.1" r="3.5"/><circle cx="145.6" cy="324.4" r="3.5"/><circle cx="113.3" cy="342.0" r="3.5"/><circle cx="178.3" cy="356.4" r="3.5"/><circle cx="142.5" cy="333.0" r="3.5"/><circle cx="147.5" cy="320.6" r="3.5"/><circle cx="128.4" cy="339.3" r="3.5"/><circle cx="171.4" cy="358.1" r="3.5"/><circle cx="151.4" cy="333.5" r="3.5"/><circle cx="109.3" cy="323.5" r="3.5"/><circle cx="112.4" cy="339.7" r="3.5"/><circle cx="130.1" cy="327.3" r="3.5"/><circle cx="118.6" cy="336.4" r="3.5"/><circle cx="163.5" cy="347.3" r="3.5"/><circle cx="163.6" cy="342.7" r="3.5"/><circle cx="127.7" cy="348.2" r="3.5"/><circle cx="128.0" cy="318.8" r="3.5"/><circle cx="144.4" cy="326.5" r="3.5"/><circle cx="105.0" cy="335.1" r="3.5"/><circle cx="142.2" cy="326.8" r="3.5"/><circle cx="76.2" cy="329.4" r="3.5"/><circle cx="170.1" cy="336.8" r="3.5"/><circle cx="174.0" cy="334.1" r="3.5"/><circle cx="208.9" cy="326.0" r="3.5"/><circle cx="218.9" cy="331.1" r="3.5"/><circle cx="207.3" cy="330.6" r="3.5"/><circle cx="210.4" cy="331.4" r="3.5"/><circle cx="209.8" cy="342.3" r="3.5"/><circle cx="209.2" cy="335.4" r="3.5"/><circle cx="213.1" cy="345.5" r="3.5"/><circle cx="189.9" cy="347.3" r="3.5"/><circle cx="213.5" cy="322.5" r="3.5"/><circle cx="208.8" cy="337.9" r="3.5"/><circle cx="215.5" cy="326.1" r="3.5"/><circle cx="205.1" cy="341.1" r="3.5"/><circle cx="194.7" cy="336.4" r="3.5"/><circle cx="195.4" cy="336.1" r="3.5"/><circle cx="208.2" cy="321.9" r="3.5"/><circle cx="184.9" cy="332.3" r="3.5"/><circle cx="184.3" cy="345.0" r="3.5"/><circle cx="215.0" cy="332.0" r="3.5"/><circle cx="219.3" cy="335.7" r="3.5"/><circle cx="183.3" cy="337.4" r="3.5"/><circle cx="206.3" cy="321.8" r="3.5"/><circle cx="221.7" cy="334.9" r="3.5"/><circle cx="199.1" cy="345.5" r="3.5"/><circle cx="208.3" cy="342.3" r="3.5"/><circle cx="188.8" cy="347.9" r="3.5"/><circle cx="182.9" cy="329.0" r="3.5"/><circle cx="186.2" cy="323.8" r="3.5"/><circle cx="187.9" cy="347.8" r="3.5"/><circle cx="211.3" cy="341.5" r="3.5"/><circle cx="211.9" cy="343.1" r="3.5"/><circle cx="184.7" cy="326.4" r="3.5"/><circle cx="211.1" cy="324.1" r="3.5"/><circle cx="211.7" cy="346.0" r="3.5"/><circle cx="207.8" cy="328.2" r="3.5"/><circle cx="201.0" cy="322.0" r="3.5"/><circle cx="192.8" cy="321.1" r="3.5"/><circle cx="183.3" cy="330.0" r="3.5"/><circle cx="195.1" cy="327.7" r="3.5"/><circle cx="189.4" cy="324.0" r="3.5"/><circle cx="202.0" cy="346.7" r="3.5"/><circle cx="197.3" cy="332.1" r="3.5"/><circle cx="200.2" cy="329.2" r="3.5"/><circle cx="188.5" cy="325.8" r="3.5"/><circle cx="197.1" cy="330.1" r="3.5"/><circle cx="207.8" cy="336.5" r="3.5"/><circle cx="198.1" cy="326.1" r="3.5"/><circle cx="205.3" cy="340.1" r="3.5"/><circle cx="210.7" cy="325.0" r="3.5"/><circle cx="195.9" cy="331.2" r="3.5"/><circle cx="206.7" cy="339.6" r="3.5"/><circle cx="199.8" cy="323.2" r="3.5"/><circle cx="197.7" cy="329.0" r="3.5"/><circle cx="206.7" cy="322.9" r="3.5"/><circle cx="214.9" cy="340.3" r="3.5"/><circle cx="182.8" cy="340.9" r="3.5"/><circle cx="199.6" cy="331.7" r="3.5"/><circle cx="215.2" cy="323.2" r="3.5"/><circle cx="184.4" cy="324.7" r="3.5"/><circle cx="215.0" cy="323.8" r="3.5"/><circle cx="205.5" cy="340.6" r="3.5"/><circle cx="216.6" cy="325.5" r="3.5"/><circle cx="210.0" cy="322.5" r="3.5"/><circle cx="196.5" cy="346.0" r="3.5"/><circle cx="204.8" cy="325.8" r="3.5"/><circle cx="190.7" cy="327.1" r="3.5"/><circle cx="219.8" cy="341.7" r="3.5"/><circle cx="206.8" cy="329.1" r="3.5"/><circle cx="201.2" cy="342.5" r="3.5"/><circle cx="192.8" cy="327.1" r="3.5"/><circle cx="214.2" cy="335.3" r="3.5"/><circle cx="186.2" cy="325.6" r="3.5"/><circle cx="213.5" cy="341.8" r="3.5"/><circle cx="205.8" cy="322.9" r="3.5"/><circle cx="217.9" cy="333.6" r="3.5"/><circle cx="201.7" cy="331.7" r="3.5"/><circle cx="185.8" cy="344.5" r="3.5"/><circle cx="185.6" cy="334.3" r="3.5"/><circle cx="190.1" cy="337.0" r="3.5"/><circle cx="191.1" cy="337.9" r="3.5"/><circle cx="184.8" cy="347.5" r="3.5"/><circle cx="183.7" cy="335.6" r="3.5"/><circle cx="200.6" cy="345.2" r="3.5"/><circle cx="195.9" cy="341.4" r="3.5"/><circle cx="181.9" cy="328.5" r="3.5"/><circle cx="202.6" cy="338.6" r="3.5"/><circle cx="195.2" cy="343.1" r="3.5"/><circle cx="200.5" cy="339.8" r="3.5"/><circle cx="187.4" cy="347.6" r="3.5"/><circle cx="186.0" cy="344.7" r="3.5"/><circle cx="194.9" cy="330.8" r="3.5"/><circle cx="192.4" cy="329.3" r="3.5"/><circle cx="195.9" cy="340.4" r="3.5"/><circle cx="184.1" cy="329.1" r="3.5"/><circle cx="187.5" cy="337.0" r="3.5"/><circle cx="197.7" cy="340.5" r="3.5"/><circle cx="192.3" cy="345.2" r="3.5"/><circle cx="186.6" cy="347.6" r="3.5"/>
</g>
<path d="M37.1 326.00H379.0" stroke="#000" stroke-width="1.6" fill="none"/>
<path d="M37.1 308.85H379.0M37.1 333.98H379.0M37.1 358.06H379.0" stroke="#000" stroke-width="1.6" stroke-dasharray="6.1 5.3" fill="none"/>
<text class="tt" x="206.8" y="254.5" text-anchor="middle">C</text>
<text class="ax" x="208.1" y="467.7" stroke-width="0.4" text-anchor="middle" textLength="118.5" lengthAdjust="spacingAndGlyphs">(SR BMI+M BMI)/2 (kg/m2)</text>
<text class="ax ay" stroke-width="0.4" transform="translate(8.6 351.4) rotate(-90)" text-anchor="middle" textLength="98.5" lengthAdjust="spacingAndGlyphs">SR BMI-M BMI(kg/m2)</text>
</g>
</svg>
</body></html>
